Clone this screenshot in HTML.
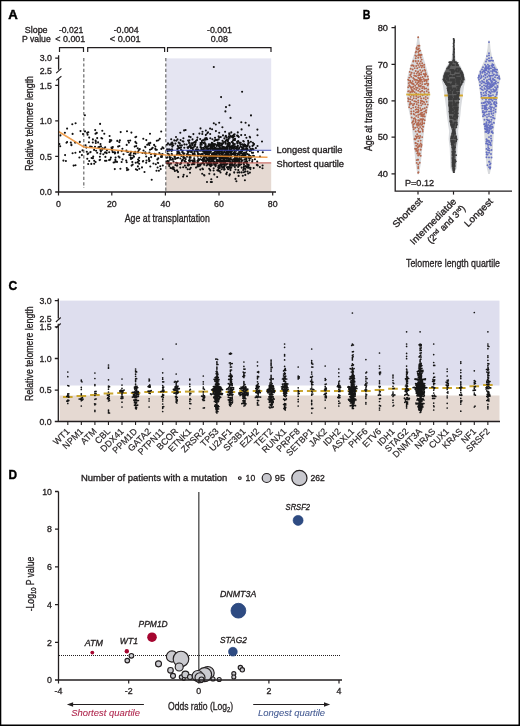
<!DOCTYPE html>
<html><head><meta charset="utf-8"><style>
html,body{margin:0;padding:0;background:#fff;}
.fig{position:relative;width:520px;height:726px;overflow:hidden;}
svg{display:block;will-change:transform;font-family:"Liberation Sans", sans-serif;}
</style></head><body><div class="fig">
<svg width="520" height="726" viewBox="0 0 520 726" fill="#231f20">
<rect x="0" y="0" width="520" height="726" fill="#fff"/>
<text x="8.30" y="19.00" font-size="13.6" textLength="9.50" lengthAdjust="spacingAndGlyphs" font-weight="bold" fill="#000" stroke="#000" stroke-width="0.5">A</text>
<text x="24.70" y="33.40" font-size="8.8" textLength="22.90" lengthAdjust="spacingAndGlyphs" stroke="#231f20" stroke-width="0.32">Slope</text>
<text x="22.00" y="41.50" font-size="8.8" textLength="28.70" lengthAdjust="spacingAndGlyphs" stroke="#231f20" stroke-width="0.32">P value</text>
<text x="59.00" y="33.40" font-size="8.8" textLength="24.30" lengthAdjust="spacingAndGlyphs" stroke="#231f20" stroke-width="0.32">-0.021</text>
<text x="55.30" y="41.50" font-size="8.8" textLength="30.00" lengthAdjust="spacingAndGlyphs" stroke="#231f20" stroke-width="0.32">&lt; 0.001</text>
<text x="113.70" y="33.40" font-size="8.8" textLength="25.00" lengthAdjust="spacingAndGlyphs" stroke="#231f20" stroke-width="0.32">-0.004</text>
<text x="109.80" y="41.50" font-size="8.8" textLength="30.80" lengthAdjust="spacingAndGlyphs" stroke="#231f20" stroke-width="0.32">&lt; 0.001</text>
<text x="207.00" y="33.40" font-size="8.8" textLength="25.00" lengthAdjust="spacingAndGlyphs" stroke="#231f20" stroke-width="0.32">-0.001</text>
<text x="210.70" y="41.50" font-size="8.8" textLength="17.30" lengthAdjust="spacingAndGlyphs" stroke="#231f20" stroke-width="0.32">0.08</text>
<path d="M59.5 52V47.6H83.5V52" fill="none" stroke="#231f20" stroke-width="1.2"/>
<path d="M87.7 52V47.6H164.6V52" fill="none" stroke="#231f20" stroke-width="1.2"/>
<path d="M167.5 52V47.6H271.0V52" fill="none" stroke="#231f20" stroke-width="1.2"/>
<rect x="165.90" y="58.40" width="105.30" height="91.80" fill="#e5e5f2"/>
<rect x="165.90" y="162.50" width="105.30" height="29.50" fill="#e5d9d2"/>
<line x1="83.80" y1="58.00" x2="83.80" y2="188.00" stroke="#6a6a6a" stroke-width="1.2" stroke-dasharray="3.2 2.2"/>
<line x1="165.80" y1="58.00" x2="165.80" y2="191.00" stroke="#6a6a6a" stroke-width="1.2" stroke-dasharray="3.2 2.2"/>
<path stroke="#111" stroke-width="2.1" stroke-linecap="round" fill="none" d="M75.5 165.3h0M82.5 150.4h0M79.4 157.5h0M65.1 155.1h0M67.1 128.6h0M81.9 155.1h0M59.4 144.1h0M80.5 131.1h0M79.9 151.9h0M71.4 145.2h0M67.1 142.1h0M66.5 142.7h0M65.9 161.0h0M70.8 142.5h0M72.3 124.3h0M73.6 165.6h0M85.0 131.4h0M79.8 141.9h0M75.4 152.7h0M84.9 115.2h0M64.9 132.8h0M63.4 160.6h0M75.1 142.6h0M60.4 135.4h0M60.2 146.3h0M72.6 133.9h0M71.4 144.6h0M83.0 134.1h0M75.6 123.2h0M72.6 153.2h0M136.2 136.8h0M139.2 157.7h0M97.2 152.7h0M120.4 168.8h0M104.3 133.8h0M117.3 140.9h0M92.9 139.4h0M162.5 147.4h0M102.3 148.2h0M138.9 150.0h0M109.2 152.3h0M155.0 155.5h0M138.1 151.6h0M95.7 133.7h0M152.7 147.8h0M160.7 154.5h0M157.4 159.4h0M130.7 157.8h0M96.8 132.9h0M100.5 144.1h0M159.3 153.1h0M129.3 154.9h0M99.6 160.1h0M155.8 154.2h0M136.4 143.3h0M130.7 155.4h0M115.2 152.5h0M118.0 152.7h0M104.3 148.3h0M88.2 164.0h0M155.2 155.8h0M122.5 159.4h0M128.9 142.6h0M110.9 157.6h0M145.2 146.9h0M87.2 132.9h0M114.9 153.4h0M87.6 154.1h0M95.0 146.8h0M162.5 154.1h0M137.7 162.0h0M119.4 146.0h0M127.0 131.2h0M154.9 156.0h0M112.7 152.1h0M132.3 162.0h0M139.8 149.1h0M113.6 162.5h0M126.7 162.2h0M146.3 140.1h0M157.8 162.7h0M97.2 138.1h0M159.8 138.7h0M85.6 145.3h0M145.4 147.2h0M150.0 133.7h0M96.1 150.7h0M118.6 156.5h0M150.3 166.5h0M86.3 147.6h0M135.4 137.2h0M148.6 143.4h0M126.2 160.5h0M143.2 161.0h0M103.3 154.3h0M101.0 146.2h0M114.2 152.2h0M99.5 146.9h0M112.8 147.1h0M161.0 156.9h0M131.0 151.9h0M112.3 148.0h0M106.9 150.4h0M161.3 149.0h0M120.7 132.1h0M163.5 148.3h0M126.4 150.6h0M126.8 168.0h0M156.8 149.8h0M144.5 172.0h0M131.6 165.6h0M119.3 142.1h0M155.4 146.5h0M118.1 152.0h0M158.9 170.8h0M90.6 152.0h0M119.5 157.4h0M126.7 144.9h0M161.2 131.5h0M105.2 147.3h0M149.6 160.8h0M139.2 163.8h0M142.5 153.0h0M135.5 153.7h0M162.8 165.5h0M111.7 148.8h0M117.0 161.9h0M101.4 138.1h0M89.2 137.6h0M102.2 138.5h0M158.3 158.4h0M152.3 148.1h0M94.1 149.9h0M133.4 155.6h0M123.5 154.3h0M132.7 164.6h0M137.9 166.4h0M109.7 141.9h0M162.0 155.9h0M122.4 148.7h0M135.4 141.9h0M135.9 169.2h0M99.9 156.8h0M90.1 146.5h0M118.1 146.6h0M146.2 156.5h0M150.3 142.9h0M143.5 150.5h0M94.2 160.7h0M158.2 163.0h0M149.3 145.0h0M155.3 148.9h0M127.0 170.1h0M158.4 140.3h0M88.9 142.2h0M87.6 134.7h0M86.8 151.8h0M105.4 152.4h0M105.0 160.7h0M100.1 123.9h0M130.5 153.2h0M88.3 132.3h0M132.4 158.1h0M98.4 147.3h0M139.3 168.8h0M86.8 151.8h0M110.0 140.1h0M160.2 166.3h0M128.2 140.7h0M150.0 149.7h0M137.8 162.5h0M134.0 156.8h0M100.4 153.7h0M131.1 152.0h0M88.3 153.5h0M149.2 161.2h0M161.9 157.0h0M153.4 163.5h0M89.2 161.0h0M112.2 150.5h0M110.6 141.1h0M94.2 163.8h0M135.2 151.8h0M148.9 159.4h0M110.2 159.6h0M154.1 144.9h0M148.9 158.1h0M95.5 133.8h0M146.5 160.5h0M155.7 149.7h0M100.9 151.4h0M131.0 159.0h0M136.2 146.1h0M133.9 153.3h0M92.8 142.5h0M138.0 152.6h0M135.7 162.7h0M151.0 154.2h0M149.4 152.5h0M111.3 140.4h0M142.9 161.5h0M154.5 153.8h0M156.5 170.7h0M98.1 142.4h0M87.3 158.8h0M137.2 170.0h0M102.3 149.8h0M130.2 140.5h0M160.7 169.1h0M115.5 161.1h0M105.4 156.9h0M121.6 162.0h0M137.7 148.3h0M93.2 156.6h0M115.6 157.5h0M95.8 142.9h0M138.1 159.6h0M151.6 148.9h0M115.3 159.9h0M114.9 162.3h0M128.3 169.6h0M102.3 130.8h0M104.9 152.6h0M111.5 147.6h0M121.7 151.1h0M91.7 146.8h0M145.3 152.2h0M131.4 132.6h0M109.1 160.1h0M91.3 163.9h0M146.2 162.8h0M95.6 162.0h0M95.8 141.3h0M95.6 140.6h0M91.6 158.0h0M157.6 167.5h0M106.7 153.1h0M109.6 136.0h0M151.7 179.8h0M134.7 146.6h0M100.1 159.8h0M119.9 140.3h0M155.8 164.2h0M115.2 153.1h0M142.0 167.4h0M92.9 158.2h0M143.3 138.8h0M147.2 144.7h0M151.2 157.1h0M139.1 160.8h0M114.8 169.1h0M90.3 152.2h0M126.6 151.5h0M145.7 153.6h0M100.4 150.0h0M106.4 160.7h0M128.0 152.0h0M145.0 153.0h0M156.8 140.8h0M95.2 130.1h0M190.7 151.0h0M192.1 144.2h0M187.9 153.0h0M172.1 142.5h0M201.9 142.3h0M231.2 155.2h0M226.0 140.5h0M182.9 152.7h0M177.9 153.4h0M193.4 163.1h0M230.9 157.0h0M207.4 146.8h0M243.9 166.9h0M221.5 148.0h0M218.6 150.9h0M230.9 151.6h0M229.4 175.4h0M195.3 155.3h0M188.0 148.1h0M203.2 161.6h0M207.5 153.4h0M178.3 177.1h0M203.5 147.8h0M220.1 160.6h0M177.8 145.9h0M178.0 171.9h0M181.0 147.6h0M190.2 156.5h0M247.2 146.5h0M168.6 163.1h0M181.9 160.2h0M180.3 132.8h0M206.3 162.2h0M167.7 161.0h0M204.9 156.9h0M180.1 164.1h0M189.1 142.9h0M233.0 137.7h0M181.9 161.0h0M218.2 170.8h0M200.5 143.0h0M201.5 143.6h0M235.0 146.4h0M179.9 143.2h0M244.0 162.6h0M241.4 155.9h0M222.5 167.5h0M170.6 167.9h0M222.1 144.9h0M216.8 160.7h0M231.3 132.4h0M184.4 153.6h0M246.5 160.4h0M240.8 146.6h0M176.0 137.0h0M192.9 149.6h0M169.2 165.9h0M236.2 150.7h0M243.3 141.1h0M249.5 159.0h0M217.8 161.7h0M222.3 144.5h0M223.4 152.9h0M214.3 164.8h0M246.4 157.9h0M217.5 161.5h0M194.6 151.4h0M209.5 153.2h0M168.0 143.2h0M227.2 147.5h0M224.7 169.3h0M201.8 150.4h0M237.9 145.7h0M229.9 149.9h0M194.7 144.4h0M172.9 159.5h0M177.5 163.4h0M181.9 145.4h0M191.9 164.5h0M204.0 175.0h0M244.3 144.4h0M189.8 161.2h0M241.9 157.2h0M223.6 167.7h0M238.1 167.0h0M200.3 165.4h0M166.7 157.7h0M232.5 150.7h0M187.0 176.3h0M178.4 147.1h0M233.5 165.6h0M224.0 164.5h0M184.3 147.8h0M188.9 155.0h0M245.3 169.0h0M189.0 136.6h0M225.4 162.5h0M177.3 151.9h0M234.9 152.4h0M176.3 140.7h0M209.8 158.6h0M169.4 144.6h0M212.6 161.4h0M237.5 143.5h0M173.5 161.6h0M189.5 157.7h0M230.6 136.1h0M217.5 151.2h0M192.7 153.2h0M219.2 132.8h0M204.6 150.8h0M238.8 162.1h0M191.0 147.2h0M230.0 165.6h0M219.8 143.5h0M228.6 142.7h0M198.2 159.8h0M227.3 160.3h0M225.1 152.6h0M199.0 154.1h0M168.7 163.6h0M247.3 148.8h0M226.3 173.8h0M183.6 158.4h0M227.8 158.1h0M189.8 156.9h0M205.8 151.3h0M238.6 166.0h0M204.0 148.6h0M190.6 156.0h0M192.1 160.5h0M172.9 167.4h0M184.9 165.6h0M189.2 150.8h0M181.0 163.5h0M171.7 153.7h0M205.5 144.1h0M184.4 144.4h0M228.5 139.3h0M243.9 157.1h0M189.3 164.7h0M214.5 144.5h0M209.0 151.3h0M172.7 143.5h0M176.9 154.2h0M240.7 142.8h0M206.2 146.2h0M234.0 147.4h0M172.0 149.4h0M216.4 150.5h0M239.1 152.0h0M239.2 152.1h0M166.9 144.8h0M210.2 159.2h0M197.4 137.6h0M230.2 155.3h0M172.6 144.8h0M188.7 155.1h0M234.7 156.6h0M205.9 134.8h0M204.5 157.2h0M247.7 166.5h0M193.3 161.1h0M169.9 157.3h0M199.4 133.6h0M179.3 152.3h0M173.3 145.3h0M214.1 163.9h0M246.5 150.9h0M215.1 147.8h0M220.8 137.0h0M193.6 160.9h0M214.4 148.5h0M229.6 151.4h0M215.9 164.1h0M233.8 154.5h0M212.6 156.8h0M183.1 176.6h0M215.4 148.5h0M207.6 149.1h0M180.4 158.5h0M218.4 167.1h0M235.0 140.1h0M177.8 151.7h0M212.2 144.5h0M228.0 140.8h0M200.3 159.3h0M189.1 146.5h0M197.7 156.6h0M211.9 154.9h0M224.1 155.1h0M213.4 154.3h0M175.4 143.6h0M235.1 153.1h0M244.0 155.7h0M174.9 156.9h0M187.4 151.0h0M181.0 162.8h0M237.7 159.1h0M242.8 154.8h0M170.1 159.7h0M194.3 155.4h0M182.6 160.1h0M205.8 135.1h0M243.8 141.5h0M172.3 150.0h0M180.8 154.8h0M207.3 133.3h0M210.4 151.2h0M229.0 155.1h0M203.2 151.4h0M178.3 151.3h0M196.1 140.8h0M248.9 154.5h0M229.5 134.1h0M176.2 162.7h0M234.3 147.6h0M192.5 163.9h0M232.0 136.9h0M167.5 157.4h0M239.6 154.8h0M180.1 145.4h0M204.7 142.2h0M222.0 164.9h0M209.1 157.6h0M180.3 167.6h0M178.1 153.0h0M190.3 155.2h0M170.8 157.6h0M184.6 160.8h0M177.4 158.0h0M205.5 161.4h0M196.4 149.2h0M215.7 139.7h0M190.0 172.8h0M169.3 155.4h0M194.2 158.3h0M229.8 149.6h0M187.9 163.4h0M200.4 155.7h0M229.8 164.2h0M200.6 147.6h0M240.9 153.3h0M243.5 155.8h0M192.5 150.7h0M228.2 156.6h0M187.7 169.2h0M178.1 148.6h0M203.2 151.5h0M217.0 155.7h0M245.0 144.8h0M178.7 142.6h0M226.2 164.7h0M206.3 161.8h0M177.5 139.4h0M248.1 140.7h0M224.8 161.3h0M177.2 165.6h0M242.5 160.4h0M175.1 159.0h0M174.2 169.5h0M194.3 154.0h0M245.2 166.5h0M169.2 165.9h0M243.5 145.5h0M217.8 160.8h0M172.1 155.0h0M214.2 148.2h0M204.9 146.5h0M213.8 157.5h0M228.3 153.8h0M223.4 162.2h0M250.1 137.5h0M179.6 148.0h0M234.7 164.8h0M200.9 154.2h0M232.2 147.4h0M241.3 149.7h0M249.7 136.7h0M188.8 141.1h0M204.5 159.4h0M245.6 155.1h0M245.8 166.6h0M197.7 151.9h0M245.4 152.8h0M200.5 128.4h0M197.9 153.3h0M229.9 174.3h0M206.0 160.7h0M204.1 153.2h0M198.8 166.3h0M202.8 162.6h0M178.2 157.8h0M171.6 151.0h0M229.7 155.9h0M213.8 162.8h0M222.8 146.7h0M233.8 159.4h0M185.7 159.1h0M186.1 167.5h0M189.8 161.8h0M191.9 148.0h0M230.3 169.8h0M197.8 155.0h0M193.6 147.4h0M219.8 157.9h0M182.1 152.0h0M175.4 165.0h0M225.0 141.7h0M229.9 143.7h0M191.3 152.0h0M219.8 171.1h0M169.3 164.3h0M200.4 144.9h0M215.0 137.8h0M187.7 151.4h0M195.7 142.3h0M217.6 160.1h0M216.0 156.1h0M179.4 154.3h0M225.7 150.2h0M173.2 168.9h0M247.8 145.3h0M183.4 141.6h0M187.7 165.3h0M183.2 167.3h0M249.7 150.9h0M190.5 160.5h0M217.2 177.0h0M249.6 146.5h0M246.2 152.8h0M170.0 158.8h0M210.2 134.0h0M216.9 152.9h0M225.4 161.5h0M194.6 153.3h0M194.0 164.2h0M166.8 161.6h0M169.4 150.6h0M212.6 159.6h0M172.8 158.6h0M183.4 138.3h0M194.4 146.0h0M172.3 146.6h0M169.0 149.2h0M244.2 149.6h0M203.0 140.3h0M183.6 154.5h0M225.9 136.5h0M167.2 163.4h0M187.0 156.7h0M247.1 167.5h0M241.8 157.6h0M219.8 149.3h0M174.3 140.4h0M193.1 160.6h0M168.8 154.2h0M184.8 157.7h0M168.6 161.3h0M177.0 165.7h0M219.6 153.7h0M174.9 170.9h0M179.5 153.2h0M242.2 154.1h0M194.6 160.6h0M194.4 164.0h0M173.7 167.5h0M233.2 136.3h0M223.2 167.1h0M212.4 139.3h0M218.3 148.5h0M174.9 157.8h0M188.3 165.4h0M215.4 144.3h0M246.4 137.7h0M235.0 163.2h0M220.2 157.1h0M210.0 144.2h0M167.7 151.1h0M241.2 135.1h0M172.0 159.7h0M177.3 149.1h0M224.6 166.3h0M234.6 134.2h0M232.5 161.3h0M204.4 175.4h0M181.3 155.5h0M169.4 155.6h0M237.9 135.9h0M248.5 157.5h0M186.9 154.4h0M239.1 148.6h0M200.2 139.1h0M192.6 154.9h0M208.8 144.3h0M167.1 149.3h0M203.6 157.1h0M183.2 153.5h0M226.2 154.0h0M208.6 163.1h0M239.4 142.6h0M241.7 167.6h0M193.0 143.0h0M190.0 145.1h0M245.3 155.2h0M208.7 161.6h0M174.5 156.4h0M170.3 149.7h0M249.6 147.1h0M215.1 151.5h0M171.0 144.8h0M209.4 159.6h0M208.8 152.0h0M203.0 169.3h0M246.3 147.0h0M246.1 152.8h0M176.9 158.3h0M179.2 143.1h0M200.6 147.6h0M236.4 181.3h0M218.8 153.9h0M227.7 168.2h0M214.8 144.0h0M184.1 130.4h0M235.1 159.2h0M167.6 153.6h0M225.1 156.7h0M182.7 150.9h0M206.0 148.1h0M248.3 141.9h0M211.7 163.7h0M171.2 139.2h0M202.4 163.2h0M221.9 151.6h0M171.2 143.2h0M187.6 147.4h0M168.0 163.3h0M211.8 161.0h0M198.5 158.7h0M208.7 154.8h0M191.3 143.3h0M221.6 166.7h0M181.0 149.8h0M242.5 148.4h0M247.0 148.9h0M207.8 149.8h0M205.5 139.7h0M238.6 149.6h0M190.8 146.1h0M233.9 148.9h0M190.6 137.1h0M226.9 172.5h0M194.5 142.0h0M217.0 156.8h0M244.2 157.0h0M171.0 163.6h0M234.2 172.2h0M211.9 157.9h0M198.3 160.9h0M195.8 149.5h0M172.3 168.4h0M188.1 140.5h0M218.7 151.7h0M174.6 156.6h0M222.6 161.1h0M247.2 161.8h0M248.8 165.1h0M241.1 159.5h0M234.1 154.2h0M181.4 156.0h0M247.9 167.8h0M183.5 156.8h0M239.4 162.8h0M240.1 152.7h0M218.6 136.4h0M210.2 148.3h0M183.3 157.3h0M210.0 169.8h0M190.8 167.8h0M177.0 170.4h0M223.6 147.3h0M234.2 161.6h0M242.0 153.7h0M219.6 160.2h0M221.2 153.4h0M222.5 140.8h0M226.4 160.8h0M210.7 157.5h0M241.5 162.0h0M218.7 145.9h0M232.5 164.1h0M211.9 165.1h0M230.8 167.6h0M231.3 167.8h0M218.3 149.8h0M257.4 129.6h0M231.0 163.8h0M253.5 145.1h0M240.4 151.9h0M214.5 164.8h0M219.0 156.9h0M232.0 156.5h0M226.0 160.9h0M225.9 135.8h0M220.5 172.5h0M196.1 150.6h0M221.5 151.1h0M189.6 159.8h0M231.0 152.8h0M213.5 145.9h0M213.6 152.8h0M221.6 150.3h0M229.4 147.6h0M202.2 173.7h0M197.1 140.1h0M208.0 132.4h0M192.4 144.9h0M209.6 144.6h0M250.5 167.8h0M208.2 155.4h0M235.5 162.1h0M203.1 159.9h0M229.8 145.0h0M219.9 162.0h0M224.1 155.5h0M234.2 172.6h0M253.1 155.8h0M228.2 153.4h0M227.1 161.0h0M209.5 161.2h0M234.4 136.2h0M221.1 165.9h0M238.4 164.3h0M224.4 162.0h0M252.9 142.8h0M193.4 134.1h0M220.3 151.1h0M239.2 161.1h0M219.5 158.4h0M212.4 144.1h0M220.8 163.0h0M203.0 140.3h0M227.0 140.7h0M243.4 153.6h0M207.3 148.1h0M211.1 147.1h0M218.6 139.4h0M241.1 164.3h0M211.9 142.9h0M214.0 157.9h0M239.2 161.6h0M238.9 153.3h0M219.1 156.3h0M207.2 163.7h0M200.3 169.6h0M213.9 163.3h0M189.4 140.3h0M237.1 135.5h0M215.0 148.0h0M232.8 142.9h0M254.9 159.2h0M243.8 155.0h0M206.7 151.6h0M239.0 164.6h0M243.6 163.8h0M213.1 153.3h0M209.8 157.3h0M223.3 164.5h0M199.5 150.6h0M248.6 156.8h0M186.6 144.5h0M207.4 154.3h0M220.8 157.1h0M221.4 153.0h0M227.7 155.9h0M229.4 160.7h0M221.6 158.1h0M243.2 147.1h0M190.9 148.1h0M225.1 141.9h0M213.6 170.5h0M227.2 158.0h0M228.6 158.2h0M210.5 152.6h0M214.8 158.6h0M237.7 159.2h0M230.6 146.8h0M214.2 152.6h0M257.7 165.4h0M262.0 141.5h0M201.7 144.7h0M229.9 159.8h0M237.6 146.3h0M228.6 161.3h0M221.7 143.5h0M216.4 156.4h0M221.7 162.0h0M216.3 157.8h0M237.0 161.6h0M218.7 152.4h0M218.0 152.6h0M205.8 153.9h0M224.3 159.6h0M210.8 182.0h0M222.2 153.4h0M241.7 172.4h0M230.9 151.9h0M233.1 143.4h0M230.8 151.6h0M226.0 158.0h0M223.0 156.0h0M220.1 155.5h0M237.2 159.5h0M207.7 159.9h0M246.5 163.1h0M225.6 142.9h0M213.1 154.4h0M217.2 145.1h0M214.2 156.7h0M227.6 153.6h0M213.6 155.9h0M243.3 149.8h0M212.6 146.3h0M188.7 152.0h0M213.4 160.7h0M192.9 161.7h0M224.4 138.4h0M242.0 157.0h0M235.4 157.1h0M203.7 140.2h0M212.9 143.8h0M253.5 149.2h0M230.2 158.1h0M225.1 131.7h0M241.9 150.5h0M245.8 149.0h0M227.3 155.9h0M230.7 167.8h0M234.9 167.1h0M215.3 150.4h0M208.1 150.5h0M225.9 156.6h0M209.9 165.5h0M224.1 168.1h0M226.6 157.4h0M262.5 168.2h0M211.5 145.7h0M223.1 143.2h0M222.4 127.2h0M232.1 145.9h0M241.8 160.0h0M217.2 162.6h0M211.9 182.0h0M198.8 160.0h0M210.3 156.0h0M233.6 145.0h0M225.8 148.4h0M208.8 148.6h0M219.1 152.2h0M225.6 147.9h0M233.1 140.4h0M215.6 164.5h0M221.1 158.7h0M196.0 167.6h0M206.7 138.8h0M250.9 141.8h0M190.1 147.1h0M219.7 165.8h0M228.6 152.6h0M219.1 156.5h0M212.1 153.5h0M224.1 156.1h0M225.0 149.3h0M223.7 158.1h0M195.0 146.1h0M222.7 152.0h0M211.4 157.1h0M216.3 155.3h0M228.7 158.5h0M235.3 146.5h0M239.4 156.9h0M217.1 151.4h0M239.8 158.0h0M243.8 168.5h0M243.2 145.6h0M247.3 164.4h0M222.7 147.8h0M222.3 150.2h0M238.3 170.1h0M203.2 163.3h0M228.4 159.2h0M216.6 162.1h0M219.2 165.6h0M197.2 147.2h0M210.8 156.6h0M224.7 150.6h0M239.3 158.4h0M240.9 151.3h0M223.8 161.5h0M222.0 154.5h0M211.8 148.7h0M231.5 153.8h0M221.1 158.7h0M234.8 164.7h0M253.1 152.7h0M224.5 151.0h0M201.1 156.7h0M211.3 161.6h0M201.7 149.1h0M205.9 130.5h0M245.9 157.2h0M228.7 151.0h0M200.8 150.7h0M235.5 178.9h0M245.2 153.1h0M219.3 161.0h0M214.3 141.0h0M219.7 156.7h0M229.6 161.7h0M235.3 156.4h0M244.0 152.7h0M244.5 159.6h0M244.0 154.8h0M246.8 167.2h0M235.6 156.4h0M200.6 146.8h0M223.0 135.4h0M230.1 147.5h0M218.9 151.7h0M239.6 142.9h0M219.3 144.5h0M210.3 138.3h0M248.2 143.9h0M235.7 155.4h0M228.6 151.8h0M239.9 152.6h0M242.1 151.4h0M230.5 152.3h0M185.8 161.8h0M214.3 174.4h0M217.8 160.7h0M209.3 173.7h0M228.2 153.6h0M244.1 154.2h0M217.3 170.3h0M206.9 147.7h0M257.5 146.0h0M217.8 153.4h0M205.3 138.3h0M228.9 136.3h0M231.9 165.8h0M213.8 144.3h0M237.7 150.0h0M217.3 150.3h0M210.3 145.3h0M227.9 161.2h0M237.4 159.9h0M214.9 162.2h0M230.3 161.5h0M223.6 155.2h0M213.7 168.2h0M247.2 164.3h0M224.2 148.7h0M223.0 155.0h0M236.6 150.6h0M239.4 172.4h0M245.3 161.8h0M230.3 159.6h0M215.5 154.0h0M216.5 159.9h0M233.2 145.3h0M234.4 154.8h0M247.4 154.1h0M231.8 154.1h0M242.0 147.5h0M249.3 158.8h0M227.7 143.5h0M201.3 149.9h0M206.2 152.8h0M202.1 153.9h0M250.5 149.3h0M211.5 144.5h0M244.8 145.2h0M234.4 150.7h0M252.5 145.9h0M241.1 153.1h0M223.4 142.3h0M221.9 154.5h0M226.4 174.2h0M227.9 141.4h0M216.6 153.2h0M224.5 165.5h0M250.8 156.2h0M197.8 162.7h0M229.2 134.1h0M210.6 149.5h0M228.1 169.3h0M238.5 149.0h0M224.1 158.1h0M237.4 135.9h0M199.6 164.4h0M242.8 175.8h0M215.4 153.6h0M235.0 157.6h0M228.0 158.3h0M183.7 174.8h0M213.0 150.2h0M228.6 138.2h0M249.9 172.6h0M229.7 143.0h0M229.2 159.7h0M202.5 131.8h0M247.9 150.1h0M254.0 156.1h0M225.5 143.7h0M221.5 149.2h0M199.2 159.9h0M239.2 147.5h0M236.5 159.2h0M245.3 171.4h0M233.7 134.8h0M209.3 157.6h0M246.4 160.1h0M205.3 151.0h0M221.7 169.2h0M229.5 167.2h0M239.2 159.1h0M231.7 159.3h0M231.2 153.6h0M212.9 143.5h0M204.4 158.8h0M226.0 149.5h0M213.7 148.5h0M204.2 164.7h0M204.8 152.1h0M217.2 163.3h0M195.4 144.1h0M203.5 149.9h0M198.9 154.1h0M228.0 167.1h0M231.6 153.2h0M257.2 161.6h0M201.1 147.5h0M214.2 155.4h0M239.7 162.1h0M221.6 145.4h0M219.8 147.4h0M252.4 160.0h0M219.7 143.1h0M206.6 157.1h0M204.0 157.2h0M230.4 153.1h0M229.9 161.5h0M203.1 158.5h0M209.3 155.8h0M233.6 139.6h0M234.3 139.9h0M214.8 156.8h0M235.0 138.8h0M234.2 154.7h0M196.6 150.6h0M220.1 145.8h0M231.7 151.5h0M215.9 131.1h0M190.9 151.9h0M220.5 165.7h0M237.1 141.8h0M250.3 158.2h0M190.0 157.2h0M207.0 182.0h0M240.4 144.7h0M244.8 146.4h0M240.8 146.6h0M227.5 144.9h0M206.5 138.1h0M235.1 154.7h0M213.6 145.3h0M184.7 161.4h0M236.4 157.7h0M254.1 144.1h0M210.5 150.5h0M248.5 167.1h0M250.5 150.8h0M249.9 156.0h0M224.7 162.1h0M205.8 150.1h0M222.2 158.1h0M189.8 169.3h0M197.8 164.9h0M226.5 137.3h0M209.2 168.8h0M222.4 152.1h0M223.3 148.4h0M255.9 148.1h0M245.8 166.0h0M224.3 157.4h0M244.4 152.9h0M212.6 146.6h0M219.7 160.5h0M239.6 165.4h0M205.2 144.7h0M220.6 143.7h0M203.9 150.7h0M226.9 160.1h0M251.2 150.4h0M213.0 153.2h0M228.7 146.2h0M210.7 166.2h0M206.7 153.2h0M205.3 155.8h0M248.3 164.9h0M262.8 152.2h0M232.8 153.9h0M213.6 158.2h0M236.3 150.5h0M219.7 167.9h0M237.9 154.8h0M229.7 150.1h0M229.5 151.5h0M234.8 144.0h0M215.8 165.8h0M218.6 168.7h0M197.5 152.0h0M218.0 149.9h0M202.3 134.0h0M222.7 148.4h0M209.7 162.6h0M226.7 146.5h0M232.3 162.4h0M202.4 168.5h0M212.1 129.3h0M210.0 151.1h0M237.0 147.4h0M252.3 148.9h0M238.7 136.9h0M219.5 151.5h0M248.5 142.6h0M200.9 164.1h0M249.0 167.6h0M214.6 140.6h0M180.6 140.1h0M250.3 149.4h0M208.6 152.1h0M227.8 152.7h0M221.6 160.9h0M226.7 139.5h0M201.3 148.0h0M214.2 149.4h0M232.5 150.7h0M228.6 144.2h0M244.2 149.4h0M226.3 147.1h0M262.6 165.5h0M213.6 149.4h0M229.2 133.3h0M194.4 159.2h0M205.0 155.5h0M246.3 145.7h0M210.0 145.1h0M233.5 148.3h0M224.1 169.8h0M208.4 149.5h0M219.5 165.6h0M216.8 162.2h0M217.3 149.0h0M237.1 157.1h0M235.5 146.5h0M215.8 124.5h0M210.6 146.8h0M229.6 147.3h0M223.5 162.9h0M241.5 160.4h0M238.5 164.5h0M224.5 159.4h0M222.3 164.7h0M211.4 160.6h0M210.6 156.3h0M209.0 163.9h0M218.7 167.9h0M218.2 167.3h0M237.0 149.9h0M218.7 153.7h0M221.9 144.4h0M205.6 144.3h0M251.4 157.5h0M233.2 147.8h0M253.7 168.1h0M237.8 132.4h0M248.9 142.8h0M221.1 156.3h0M236.5 165.4h0M205.5 150.6h0M243.9 172.2h0M252.2 161.7h0M231.8 147.1h0M237.3 153.5h0M245.5 159.0h0M214.3 145.2h0M231.7 164.2h0M210.9 151.5h0M214.0 159.0h0M215.0 162.4h0M222.7 149.8h0M227.5 163.8h0M232.5 136.0h0M201.9 159.9h0M257.5 135.2h0M244.0 164.8h0M237.0 148.5h0M219.2 165.8h0M223.6 167.1h0M234.0 152.7h0M231.8 147.8h0M197.5 166.5h0M237.2 142.9h0M194.8 161.9h0M241.4 153.0h0M231.1 150.6h0M223.2 148.6h0M247.6 171.5h0M205.7 138.8h0M227.7 148.9h0M249.1 158.3h0M221.8 164.1h0M218.2 170.5h0M226.9 167.3h0M217.8 149.0h0M250.5 157.5h0M210.2 165.1h0M239.4 159.3h0M204.5 139.3h0M236.1 157.4h0M223.3 159.9h0M182.6 141.3h0M225.0 149.8h0M207.5 153.8h0M217.8 160.1h0M250.4 169.1h0M206.7 165.5h0M207.6 158.9h0M248.7 156.4h0M227.0 150.9h0M250.4 149.0h0M230.4 152.1h0M210.6 152.2h0M224.0 163.9h0M245.3 174.9h0M240.5 159.3h0M225.1 163.4h0M225.9 160.5h0M223.2 156.9h0M215.6 166.2h0M256.8 164.9h0M225.2 155.2h0M206.5 153.2h0M217.2 160.6h0M237.0 149.5h0M235.6 156.4h0M222.8 164.0h0M214.1 153.9h0M225.5 136.2h0M197.5 160.7h0M203.7 143.1h0M238.2 141.1h0M217.2 139.9h0M231.2 162.2h0M245.1 135.0h0M235.7 153.2h0M225.4 156.7h0M260.0 156.5h0M236.0 148.5h0M219.2 153.8h0M237.1 156.0h0M231.8 142.0h0M211.0 161.2h0M226.3 164.3h0M222.4 146.7h0M192.7 147.5h0M222.2 143.8h0M220.4 164.5h0M217.9 143.9h0M198.0 149.6h0M219.2 137.4h0M224.4 166.2h0M226.7 152.2h0M206.4 156.9h0M235.5 169.5h0M205.1 161.1h0M221.4 143.5h0M246.5 158.8h0M213.7 161.2h0M216.7 145.9h0M242.7 144.8h0M218.8 144.8h0M220.2 161.8h0M228.7 154.8h0M242.3 144.4h0M188.9 160.6h0M211.5 161.5h0M208.5 146.3h0M207.2 139.3h0M211.0 165.3h0M211.3 179.2h0M230.0 168.2h0M210.5 164.0h0M227.1 155.6h0M231.6 148.4h0M213.1 155.7h0M227.2 161.0h0M251.9 152.8h0M230.3 163.5h0M214.6 154.7h0M224.0 160.4h0M210.1 128.6h0M229.5 146.4h0M239.2 162.3h0M211.7 163.8h0M221.6 158.5h0M243.2 170.0h0M216.9 161.3h0M228.1 161.3h0M208.3 145.8h0M211.7 158.4h0M216.7 161.8h0M259.9 167.1h0M218.5 165.5h0M216.6 154.9h0M216.1 156.3h0M222.4 143.4h0M235.6 160.3h0M228.1 144.1h0M258.0 151.8h0M228.5 154.3h0M248.2 173.5h0M229.5 166.6h0M234.7 147.2h0M202.0 140.9h0M223.0 152.3h0M224.0 147.0h0M221.2 158.2h0M190.6 157.8h0M239.1 160.6h0M218.9 144.9h0M218.1 151.0h0M221.0 156.5h0M221.4 157.4h0M231.6 148.9h0M204.7 151.2h0M210.2 162.2h0M229.7 137.8h0M227.4 151.8h0M219.0 154.2h0M215.9 140.1h0M211.7 144.5h0M224.1 155.1h0M243.9 149.1h0M208.1 164.5h0M249.4 160.4h0M238.6 175.9h0M217.8 142.6h0M237.6 172.5h0M201.6 147.7h0M197.4 162.2h0M204.4 163.7h0M218.5 156.1h0M219.9 151.7h0M216.8 148.4h0M226.7 137.3h0M190.9 150.8h0M233.0 145.8h0M202.4 160.0h0M214.5 147.4h0M218.5 152.8h0M206.6 158.7h0M203.1 155.2h0M209.0 154.9h0M224.9 152.4h0M234.5 150.4h0M234.1 159.1h0M209.2 161.4h0M212.4 147.1h0M210.3 170.5h0M232.3 160.2h0M192.5 139.4h0M244.9 180.2h0M217.3 160.9h0M212.5 147.7h0M230.5 170.1h0M241.6 129.4h0M213.8 67.0h0M242.1 91.7h0M221.1 97.1h0M229.5 105.2h0M226.0 107.1h0M225.4 111.4h0M230.5 117.9h0M251.0 115.4h0M241.3 122.2h0M245.6 122.7h0M248.9 125.4h0M213.8 123.2h0M185.6 130.0h0M219.2 122.7h0"/>
<line x1="165.90" y1="150.40" x2="271.20" y2="150.40" stroke="#3441b6" stroke-width="1.15" stroke-opacity="0.7"/>
<line x1="165.90" y1="162.90" x2="271.20" y2="162.90" stroke="#be413c" stroke-width="1.4" stroke-opacity="0.68"/>
<polyline points="58.5,131.5 83.8,147 165.8,154.9 267.5,157.3" fill="none" stroke="#ee8f30" stroke-opacity="0.85" stroke-width="1.5"/>
<path d="M58.6 55.3V69.8M58.6 79.1V192.6M58 192H276M55.2 58.1H58.6M55.2 85.3H58.6M55.2 120.9H58.6M55.2 156.4H58.6M55.2 192H58.6" stroke="#231f20" stroke-width="1.3" fill="none"/>
<path d="M56.2 73.2L61.4 68.3M56.2 80.4L61.4 76.3" stroke="#231f20" stroke-width="1.1" fill="none"/>
<line x1="58.50" y1="192.00" x2="58.50" y2="195.50" stroke="#231f20" stroke-width="1.2"/>
<text x="58.50" y="207.00" font-size="8.8" text-anchor="middle" stroke="#231f20" stroke-width="0.32">0</text>
<line x1="111.80" y1="192.00" x2="111.80" y2="195.50" stroke="#231f20" stroke-width="1.2"/>
<text x="111.80" y="207.00" font-size="8.8" text-anchor="middle" stroke="#231f20" stroke-width="0.32">20</text>
<line x1="165.40" y1="192.00" x2="165.40" y2="195.50" stroke="#231f20" stroke-width="1.2"/>
<text x="165.40" y="207.00" font-size="8.8" text-anchor="middle" stroke="#231f20" stroke-width="0.32">40</text>
<line x1="219.00" y1="192.00" x2="219.00" y2="195.50" stroke="#231f20" stroke-width="1.2"/>
<text x="219.00" y="207.00" font-size="8.8" text-anchor="middle" stroke="#231f20" stroke-width="0.32">60</text>
<line x1="272.70" y1="192.00" x2="272.70" y2="195.50" stroke="#231f20" stroke-width="1.2"/>
<text x="272.70" y="207.00" font-size="8.8" text-anchor="middle" stroke="#231f20" stroke-width="0.32">80</text>
<text x="51.90" y="61.30" font-size="8.8" text-anchor="end" textLength="12.20" lengthAdjust="spacingAndGlyphs" stroke="#231f20" stroke-width="0.32">3.0</text>
<text x="51.90" y="74.20" font-size="8.8" text-anchor="end" textLength="12.20" lengthAdjust="spacingAndGlyphs" stroke="#231f20" stroke-width="0.32">2.5</text>
<text x="51.90" y="88.50" font-size="8.8" text-anchor="end" textLength="12.20" lengthAdjust="spacingAndGlyphs" stroke="#231f20" stroke-width="0.32">1.5</text>
<text x="51.90" y="124.10" font-size="8.8" text-anchor="end" textLength="12.20" lengthAdjust="spacingAndGlyphs" stroke="#231f20" stroke-width="0.32">1.0</text>
<text x="51.90" y="159.60" font-size="8.8" text-anchor="end" textLength="12.20" lengthAdjust="spacingAndGlyphs" stroke="#231f20" stroke-width="0.32">0.5</text>
<text x="51.90" y="195.20" font-size="8.8" text-anchor="end" textLength="12.20" lengthAdjust="spacingAndGlyphs" stroke="#231f20" stroke-width="0.32">0.0</text>
<text x="124.80" y="222.30" font-size="11.0" textLength="85.00" lengthAdjust="spacingAndGlyphs" stroke="#231f20" stroke-width="0.32">Age at transplantation</text>
<text x="32.90" y="170.80" font-size="10.4" textLength="94.80" lengthAdjust="spacingAndGlyphs" stroke="#231f20" stroke-width="0.32" transform="rotate(-90 32.90 170.80)">Relative telomere length</text>
<text x="276.50" y="153.20" font-size="8.9" textLength="66.00" lengthAdjust="spacingAndGlyphs" stroke="#231f20" stroke-width="0.32">Longest quartile</text>
<text x="276.50" y="166.50" font-size="8.9" textLength="67.50" lengthAdjust="spacingAndGlyphs" stroke="#231f20" stroke-width="0.32">Shortest quartile</text>
<text x="362.80" y="18.70" font-size="13.4" textLength="7.70" lengthAdjust="spacingAndGlyphs" font-weight="bold" fill="#000" stroke="#000" stroke-width="0.4">B</text>
<path d="M417.4 36.7 L417.1 40.0 L415.6 49.3 L413.1 57.0 L410.2 66.6 L407.4 77.2 L407.1 87.8 L406.6 94.4 L407.6 104.9 L409.8 114.8 L412.0 127.2 L413.2 139.6 L414.5 152.0 L415.7 164.3 L417.4 174.3 L419.0 174.3 L420.7 164.3 L421.9 152.0 L423.2 139.6 L424.4 127.2 L426.6 114.8 L428.8 104.9 L429.8 94.4 L429.3 87.8 L429.0 77.2 L426.1 66.6 L423.3 57.0 L420.8 49.3 L419.3 40.0 L419.0 36.7Z" fill="#d8dadd"/>
<path stroke="#b4684f" stroke-width="1.94" stroke-linecap="round" fill="none" d="M418.2 130.8h0M418.2 82.2h0M418.2 147.1h0M418.2 65.1h0M418.2 55.4h0M416.7 84.1h0M418.2 149.9h0M418.2 77.7h0M418.2 97.3h0M418.2 75.4h0M418.2 120.2h0M420.2 96.6h0M415.7 82.1h0M420.2 83.2h0M418.2 49.3h0M420.2 80.9h0M418.2 102.5h0M418.9 48.5h0M418.2 71.5h0M418.2 164.5h0M418.2 168.2h0M418.2 90.7h0M416.2 95.9h0M418.2 52.1h0M418.2 94.4h0M418.2 100.4h0M422.2 84.1h0M418.2 114.9h0M418.2 122.4h0M416.2 89.8h0M420.7 55.2h0M416.2 56.1h0M418.2 141.1h0M418.2 136.2h0M418.2 155.5h0M420.7 94.4h0M418.7 128.7h0M416.7 73.6h0M418.2 112.4h0M415.7 119.7h0M416.2 98.5h0M420.2 119.1h0M419.7 89.1h0M415.7 112.6h0M417.2 127.1h0M418.2 109.7h0M420.2 114.1h0M417.7 87.9h0M419.2 73.5h0M415.7 136.1h0M420.2 91.8h0M415.7 109.6h0M420.2 123.2h0M416.2 93.5h0M413.7 114.0h0M420.7 110.3h0M422.7 95.3h0M416.2 66.0h0M422.2 112.7h0M414.7 92.1h0M416.7 104.3h0M420.2 131.8h0M416.2 150.9h0M415.7 122.3h0M420.7 77.6h0M420.7 65.5h0M418.7 85.9h0M413.7 95.9h0M411.7 94.9h0M418.2 61.0h0M416.2 148.7h0M415.7 61.4h0M417.2 80.3h0M421.2 74.5h0M420.7 86.5h0M415.2 85.8h0M420.7 61.4h0M422.2 81.9h0M418.9 48.7h0M415.7 71.0h0M417.7 49.4h0M413.7 84.1h0M414.2 88.8h0M416.2 145.7h0M422.2 88.3h0M421.5 54.7h0M422.2 90.9h0M420.7 103.0h0M424.7 84.1h0M413.7 118.8h0M421.2 98.5h0M416.7 162.9h0M414.7 79.7h0M418.7 105.4h0M413.2 61.6h0M413.2 86.8h0M413.7 66.0h0M415.7 52.6h0M419.7 63.5h0M422.7 119.1h0M419.7 145.3h0M415.7 131.4h0M414.2 73.1h0M424.2 91.9h0M420.2 127.1h0M417.2 153.5h0M413.7 111.3h0M424.2 87.1h0M412.7 81.1h0M418.2 172.8h0M414.2 103.8h0M422.2 124.2h0M424.2 111.6h0M423.7 74.0h0M411.2 82.7h0M419.7 137.7h0M413.2 120.9h0M413.7 98.3h0M410.7 87.0h0M416.2 76.2h0M418.2 167.0h0M419.2 67.1h0M416.7 124.2h0M426.7 83.3h0M414.2 75.5h0M409.2 85.3h0M415.2 127.7h0M422.2 63.2h0M418.2 107.5h0M420.2 50.6h0M422.7 77.0h0M413.2 77.9h0M424.2 81.0h0M413.7 84.4h0M419.3 51.0h0M418.2 159.8h0M410.2 80.8h0M420.2 108.1h0M424.2 64.7h0M418.7 125.5h0M419.7 153.5h0M424.2 113.9h0M424.7 94.3h0M426.7 81.0h0M414.2 123.8h0M424.2 123.3h0M422.7 103.9h0M411.7 72.7h0M426.2 88.5h0M411.7 103.6h0M417.9 152.0h0M413.1 124.9h0M425.2 104.2h0M417.2 134.3h0M416.7 138.0h0M421.2 146.7h0M418.2 45.8h0M411.4 65.5h0M422.2 122.3h0M423.7 78.9h0M427.7 85.4h0M420.2 70.1h0M411.2 111.5h0M422.7 126.6h0M415.3 55.4h0M412.2 91.9h0M420.7 149.7h0M426.2 110.1h0M420.7 140.6h0M411.7 89.8h0M414.7 138.8h0M421.7 67.4h0M420.0 124.4h0M421.7 128.6h0M419.5 86.3h0M419.0 153.6h0M422.7 108.9h0M421.4 124.9h0M424.7 120.2h0M422.9 86.6h0M417.8 147.7h0M421.7 119.2h0M414.6 139.2h0M408.2 87.3h0M416.2 101.7h0M425.7 73.2h0M423.7 98.2h0M418.2 57.7h0M415.7 107.0h0M408.2 79.6h0M418.2 117.1h0M422.7 70.7h0M421.2 72.2h0M422.2 101.3h0M419.0 80.6h0M409.7 104.7h0M420.7 57.5h0M410.2 92.6h0M413.2 107.6h0M411.2 76.8h0M411.2 113.8h0M412.2 122.8h0M422.3 123.4h0M424.4 88.7h0M421.7 79.8h0M417.2 68.2h0M418.5 172.3h0M419.7 162.8h0M410.2 75.0h0M424.2 102.2h0M424.8 80.8h0M425.2 79.9h0M427.7 104.6h0M422.2 137.1h0M424.6 81.1h0M411.2 108.6h0M422.7 131.6h0M416.2 115.9h0M426.7 91.3h0M427.2 94.8h0M423.3 126.7h0M418.1 123.9h0M423.5 114.8h0M408.2 91.4h0M420.3 79.9h0M425.2 76.4h0M422.5 65.7h0M421.3 110.3h0M424.7 108.2h0M417.2 63.2h0M417.6 72.1h0M415.7 58.3h0M416.0 149.3h0M410.7 74.4h0M421.7 59.6h0M426.2 112.5h0M420.6 149.8h0M423.3 119.1h0M413.3 91.2h0M412.9 105.2h0M409.2 94.8h0M418.2 37.3h0M419.4 45.7h0M417.4 112.1h0M424.9 74.1h0M421.2 112.9h0M417.1 150.7h0M410.7 96.9h0M411.1 87.9h0M416.6 79.9h0M414.7 68.1h0M412.2 83.7h0M408.7 80.4h0M409.3 85.4h0M409.8 86.0h0M419.8 120.8h0M418.8 111.1h0M421.2 105.4h0M409.2 77.6h0M412.2 100.0h0M417.7 144.0h0M409.4 85.6h0M416.7 47.5h0M408.7 83.1h0M414.4 114.6h0M420.7 155.7h0M411.7 117.5h0M421.2 116.0h0M420.5 81.1h0M409.0 91.1h0M420.7 143.4h0M410.2 102.0h0M413.7 129.3h0M428.2 79.2h0M417.0 125.0h0M409.7 71.9h0M428.2 89.5h0M420.5 77.7h0M416.1 87.8h0M426.5 79.9h0M428.7 92.5h0M426.7 101.7h0M414.8 118.3h0M408.2 101.2h0M412.8 121.7h0M421.8 114.7h0M418.7 84.9h0M414.2 101.1h0M425.7 99.4h0M419.1 146.4h0M415.8 60.9h0M412.7 69.5h0M423.1 101.6h0M416.4 109.2h0M417.1 124.1h0M427.7 98.1h0M422.7 130.0h0M420.9 85.7h0M415.7 142.9h0M410.3 82.2h0M417.5 83.2h0M410.2 103.7h0M418.6 82.0h0M428.3 84.0h0M425.8 110.8h0M415.4 143.0h0M412.8 90.4h0M413.4 105.1h0M424.7 116.5h0M426.1 74.6h0M415.9 143.2h0M416.7 160.1h0M412.6 83.2h0M419.2 132.0h0M422.3 120.7h0M425.3 84.1h0M425.7 96.9h0M410.2 99.2h0M417.0 112.0h0M415.0 79.9h0M416.1 51.4h0M420.5 91.9h0M420.8 100.8h0M419.0 48.5h0M419.3 75.0h0M422.0 90.9h0M415.5 121.3h0M420.1 54.7h0M419.7 55.3h0M415.4 139.4h0M426.7 107.3h0M421.6 145.0h0M416.5 48.7h0M424.2 67.3h0M425.2 70.8h0M418.5 111.5h0M420.0 79.3h0M420.1 136.0h0M421.4 101.0h0M409.2 107.2h0M411.0 91.6h0M419.5 74.1h0M417.4 159.6h0M413.9 78.8h0M416.3 96.1h0M418.8 81.6h0M415.3 75.9h0M415.2 79.7h0M425.0 75.8h0M415.1 148.7h0M424.6 69.6h0M423.2 115.1h0M419.2 154.6h0M413.2 127.0h0M418.7 54.2h0M418.1 146.3h0M422.9 116.5h0M419.2 138.2h0M412.8 65.3h0M416.7 136.9h0M418.0 49.4h0M419.7 114.4h0M427.7 76.5h0M410.7 68.8h0M419.0 78.3h0M408.2 98.3h0M413.5 60.6h0M408.5 99.1h0M411.7 87.7h0M415.5 101.4h0"/>
<line x1="406.20" y1="94.50" x2="430.20" y2="94.50" stroke="#d6a92a" stroke-width="1.8" stroke-opacity="0.9"/>
<path d="M452.8 38.0 L452.3 50.0 L451.6 59.0 L449.6 62.0 L446.6 66.0 L443.1 73.7 L441.6 80.0 L443.1 86.3 L444.4 95.2 L446.1 107.2 L446.8 115.0 L448.0 123.6 L449.1 131.0 L448.6 139.0 L449.7 148.0 L450.0 157.0 L450.4 168.0 L452.6 173.0 L454.6 173.0 L456.8 168.0 L457.2 157.0 L457.5 148.0 L458.6 139.0 L458.1 131.0 L459.2 123.6 L460.4 115.0 L461.1 107.2 L462.8 95.2 L464.1 86.3 L465.6 80.0 L464.1 73.7 L460.6 66.0 L457.6 62.0 L455.6 59.0 L454.9 50.0 L454.4 38.0Z" fill="#d8dadd"/>
<line x1="444.30" y1="95.50" x2="462.90" y2="95.50" stroke="#d6a92a" stroke-width="1.9"/>
<path d="M453.1 38.0 L452.9 50.0 L452.6 59.0 L452.1 61.5 L448.3 62.2 L449.6 63.5 L446.6 68.0 L443.9 73.7 L442.6 80.0 L446.5 86.3 L447.8 95.2 L448.5 107.0 L448.9 115.3 L449.9 123.6 L451.9 130.8 L450.0 139.0 L451.5 148.3 L451.5 156.6 L451.8 168.0 L453.1 173.0 L454.1 173.0 L455.4 168.0 L455.7 156.6 L455.7 148.3 L457.2 139.0 L455.3 130.8 L457.3 123.6 L458.3 115.3 L458.7 107.0 L459.4 95.2 L460.7 86.3 L464.6 80.0 L463.3 73.7 L460.6 68.0 L457.6 63.5 L458.9 62.2 L455.1 61.5 L454.6 59.0 L454.3 50.0 L454.1 38.0Z" fill="#5e5e5e"/>
<path stroke="#3a3a3a" stroke-width="1.8" stroke-linecap="round" fill="none" d="M453.6 38.9h0.1M454.1 40.2h0.1M454.1 42.0h0.1M453.6 43.5h0.1M453.9 45.1h0.1M453.6 46.6h0.1M454.1 48.1h0.1M454.1 49.7h0.1M453.9 51.5h0.1M454.1 52.8h0.1M453.5 54.5h0.3M454.0 56.2h0.1M453.9 57.3h0.1M453.7 59.2h0.3M453.2 60.6h1.1M449.3 62.2h2.7M454.5 62.2h1.5M450.1 63.9h1.7M456.7 63.6h0.4M449.5 65.1h0.7M452.3 65.1h1.8M456.5 65.1h1.7M448.6 66.8h0.9M447.1 68.3h1.6M456.5 68.6h3.5M450.1 69.9h3.2M455.3 70.1h1.1M458.7 69.9h1.4M451.7 71.5h2.9M456.5 71.5h2.3M461.2 71.3h0.5M445.3 73.1h4.1M451.8 73.0h1.6M460.4 73.0h2.0M444.9 74.4h3.8M456.0 74.8h3.5M461.4 74.3h1.5M444.0 76.1h3.1M449.6 76.0h1.6M453.1 76.2h2.4M461.4 76.0h1.8M444.4 77.5h4.0M455.8 77.7h4.2M462.1 77.5h1.4M443.4 79.3h1.2M446.8 79.2h1.6M450.6 79.3h4.0M456.5 79.0h4.0M462.5 79.1h1.3M444.0 80.6h1.7M448.0 80.7h0.9M450.8 80.7h3.3M456.0 80.8h3.3M461.3 80.9h0.8M445.0 82.2h1.6M452.7 82.4h2.2M456.9 82.2h2.4M461.7 82.2h0.9M445.7 83.8h3.5M451.3 84.1h3.2M457.0 83.9h2.4M461.4 83.9h0.2M446.9 85.2h4.0M459.3 85.2h1.4M447.9 87.1h3.4M457.1 86.7h2.9M447.5 88.6h3.7M453.1 88.3h2.6M457.9 88.4h1.2M447.8 90.2h1.3M451.2 90.0h1.7M454.9 90.2h3.8M448.4 91.8h3.1M453.9 91.8h1.6M448.8 93.4h2.5M453.6 93.0h2.9M458.3 93.0h0.8M457.1 94.9h1.7M449.1 96.1h2.9M454.1 96.1h4.2M448.8 97.6h3.3M454.4 97.9h3.8M448.9 99.3h2.4M453.1 99.1h3.9M459.0 99.2h0.1M453.6 100.9h0.1M449.4 102.5h2.2M453.5 102.3h1.0M456.6 102.6h1.8M449.0 104.1h2.2M453.1 103.9h3.5M449.1 105.7h2.7M453.6 105.3h3.0M449.8 107.1h2.1M454.0 107.3h3.8M449.9 108.7h2.5M454.2 108.9h3.4M449.8 110.0h3.4M455.6 110.3h1.8M449.4 111.6h2.2M454.1 111.6h2.8M449.8 113.1h3.9M455.6 113.3h2.2M454.3 115.0h2.3M450.0 116.6h1.3M453.7 116.3h3.9M450.5 118.1h3.5M456.1 117.8h1.2M454.3 119.3h1.2M450.2 121.2h1.4M450.7 122.4h1.2M454.4 122.7h2.4M451.0 124.3h3.5M456.9 124.4h0.1M451.2 125.6h2.8M456.4 125.6h0.1M452.0 127.1h1.9M456.2 127.4h0.1M453.6 128.8h0.1M452.8 130.1h2.0M452.8 131.9h2.2M452.4 133.6h2.9M453.6 135.0h0.1M451.6 136.5h2.0M455.9 136.4h0.2M451.3 138.2h1.3M454.6 138.2h1.8M456.7 139.6h0.1M451.2 141.0h2.9M456.0 141.2h0.2M451.6 142.5h2.9M451.6 144.5h1.5M453.6 145.8h0.1M452.3 147.4h2.8M452.9 148.9h1.4M453.6 150.5h0.1M452.3 151.8h2.8M452.8 153.6h1.1M452.5 155.0h1.5M456.0 155.2h0.1M453.6 156.7h0.1M452.4 158.1h1.2M452.6 159.9h2.4M452.7 161.4h1.2M455.8 161.3h0.1M452.5 162.7h2.4M452.6 164.3h1.8M452.5 166.0h2.3M453.6 167.6h0.1M453.5 169.0h1.0M453.6 170.5h0.5M453.9 172.2h0.1"/>
<path d="M488.2 40.5 L487.5 48.6 L485.9 57.0 L482.7 64.3 L479.1 71.7 L477.5 77.9 L479.1 86.3 L480.6 97.8 L480.7 107.2 L482.0 115.3 L483.6 125.6 L484.4 136.0 L485.1 146.3 L485.6 156.6 L486.7 167.0 L488.2 174.1 L489.8 174.1 L491.3 167.0 L492.4 156.6 L492.9 146.3 L493.6 136.0 L494.4 125.6 L496.0 115.3 L497.3 107.2 L497.4 97.8 L498.9 86.3 L500.5 77.9 L498.9 71.7 L495.3 64.3 L492.1 57.0 L490.5 48.6 L489.8 40.5Z" fill="#d8dadd"/>
<path stroke="#6670c2" stroke-width="1.94" stroke-linecap="round" fill="none" d="M489.0 53.2h0M489.0 167.1h0M489.0 69.8h0M489.0 66.2h0M489.0 111.6h0M489.0 97.0h0M489.0 157.4h0M487.0 97.8h0M489.0 120.3h0M487.5 68.2h0M489.0 132.5h0M489.0 83.0h0M489.0 88.8h0M489.0 108.3h0M491.5 82.8h0M490.0 106.3h0M486.5 70.2h0M491.0 71.1h0M487.0 90.3h0M489.0 75.2h0M493.0 69.8h0M489.0 127.5h0M491.0 68.3h0M491.0 95.8h0M487.0 128.7h0M489.0 141.0h0M489.0 148.6h0M489.0 86.4h0M487.5 84.5h0M491.0 85.0h0M487.5 131.0h0M491.5 132.0h0M487.0 73.8h0M491.0 89.9h0M489.0 91.7h0M491.5 119.7h0M489.0 99.8h0M490.5 126.0h0M486.5 107.8h0M487.0 119.5h0M485.5 131.9h0M489.0 152.8h0M490.5 93.4h0M491.0 98.0h0M486.5 141.4h0M485.5 83.5h0M487.5 165.3h0M487.5 76.7h0M485.0 68.3h0M489.0 144.6h0M493.0 67.4h0M493.5 98.0h0M494.0 83.1h0M484.5 98.0h0M491.0 109.2h0M489.0 79.4h0M489.0 114.0h0M489.0 161.7h0M483.0 67.2h0M489.0 103.8h0M482.5 98.8h0M487.0 80.3h0M483.5 82.4h0M487.0 104.9h0M492.0 91.8h0M481.5 83.4h0M489.0 60.7h0M488.5 124.9h0M490.5 77.9h0M491.5 140.8h0M485.5 77.8h0M491.5 75.6h0M489.0 116.1h0M486.5 125.7h0M484.0 70.3h0M485.0 109.4h0M493.0 78.4h0M493.5 89.8h0M495.5 96.6h0M489.0 42.1h0M495.0 77.3h0M491.5 113.8h0M495.0 71.3h0M487.0 114.6h0M488.4 140.7h0M490.5 102.1h0M496.0 83.8h0M493.5 85.4h0M486.5 66.1h0M492.0 124.2h0M491.0 80.4h0M489.0 72.1h0M491.0 128.4h0M487.0 143.5h0M487.0 59.5h0M495.0 69.0h0M492.5 126.7h0M491.5 65.8h0M488.0 101.9h0M490.3 97.4h0M485.5 102.1h0M485.5 91.9h0M484.5 119.8h0M492.0 107.3h0M485.0 124.0h0M486.5 111.5h0M491.5 104.3h0M485.5 75.3h0M492.5 72.9h0M491.1 128.7h0M487.0 117.1h0M491.5 157.5h0M491.0 87.3h0M486.5 139.3h0M493.0 115.4h0M485.0 72.4h0M495.4 97.6h0M486.5 152.3h0M491.0 145.3h0M483.5 76.2h0M491.0 116.9h0M484.0 79.4h0M484.0 85.4h0M498.0 82.6h0M488.5 94.6h0M489.0 122.7h0M484.5 107.1h0M485.0 128.5h0M485.0 89.1h0M489.4 130.8h0M495.0 91.4h0M486.6 127.0h0M488.4 130.9h0M491.5 60.4h0M489.7 98.3h0M482.5 72.8h0M487.8 129.2h0M493.5 65.0h0M494.0 103.7h0M485.3 125.9h0M483.5 103.0h0M481.5 77.3h0M480.0 85.2h0M492.5 100.8h0M484.2 124.2h0M480.0 81.9h0M483.5 92.9h0M485.0 64.6h0M487.0 87.3h0M494.0 84.5h0M481.5 96.9h0M495.0 87.1h0M480.5 71.4h0M489.5 150.6h0M494.0 122.9h0M491.5 111.5h0M494.4 67.5h0M494.0 74.4h0M482.0 86.7h0M497.5 87.2h0M496.5 103.3h0M494.5 79.9h0M491.0 154.0h0M493.0 117.8h0M486.8 139.8h0M491.4 128.2h0M497.0 72.7h0M497.0 69.8h0M489.0 55.4h0M481.7 103.1h0M493.5 110.4h0M485.2 102.0h0M496.5 72.4h0M486.5 148.9h0M485.0 126.4h0M489.7 87.6h0M493.0 60.8h0M497.5 77.9h0M485.3 70.0h0M486.0 95.2h0M492.3 81.9h0M489.0 137.1h0M491.0 135.9h0M496.0 81.5h0M481.0 92.7h0M482.0 69.5h0M491.7 81.4h0M489.5 72.9h0M491.0 121.9h0M490.5 142.8h0M487.1 83.2h0M490.3 85.3h0M496.2 102.1h0M493.0 95.1h0M490.5 144.4h0M486.9 152.6h0M492.2 86.4h0M496.0 75.3h0M492.5 84.3h0M479.0 76.7h0M491.1 81.0h0M480.5 73.9h0M490.0 125.9h0M490.9 104.3h0M491.0 138.5h0M488.0 71.8h0M494.0 108.0h0M494.5 118.5h0M480.6 78.2h0M480.5 88.4h0M488.4 66.9h0M496.3 71.9h0M497.5 86.2h0M493.4 64.9h0M482.0 80.9h0M494.2 70.3h0M485.9 66.3h0M491.8 131.6h0M483.5 95.6h0M483.0 90.1h0M492.0 86.3h0M489.0 58.3h0M497.0 92.2h0M493.6 122.6h0M485.4 129.2h0M488.3 144.5h0M495.4 69.2h0M484.5 112.7h0M499.5 78.9h0M494.6 101.9h0M494.7 80.2h0M496.5 89.7h0M480.6 72.0h0M494.0 91.7h0M490.1 87.8h0M486.5 122.2h0M483.0 111.0h0M487.3 85.4h0M486.4 131.2h0M486.3 126.0h0M496.0 99.6h0M486.4 104.3h0M485.0 115.5h0M488.1 144.9h0M487.6 154.6h0M489.3 65.9h0M487.2 101.6h0M488.0 150.1h0M489.8 101.9h0M488.5 132.8h0M495.5 109.6h0M487.9 64.6h0M492.8 133.0h0M484.9 95.3h0M487.1 130.3h0M479.0 79.7h0M499.0 76.2h0M495.5 106.2h0M489.1 68.5h0M489.3 95.8h0M492.3 64.3h0M487.3 140.9h0M486.3 132.0h0M482.5 105.7h0M493.0 79.8h0M489.4 121.6h0M490.5 144.3h0M481.2 76.0h0M495.5 111.9h0M490.0 168.6h0M486.2 93.1h0M489.6 128.2h0M482.6 81.5h0M490.2 60.7h0M486.0 67.0h0M495.1 90.3h0M487.4 127.2h0M499.2 77.9h0M482.5 108.2h0M486.7 81.2h0M497.3 75.1h0M491.5 57.7h0M495.3 104.6h0M490.2 84.3h0M490.7 126.6h0M488.2 133.3h0M484.4 105.8h0M487.1 109.4h0M483.0 116.3h0M492.7 127.6h0M492.3 66.1h0M485.0 74.5h0M484.6 108.4h0M489.9 129.0h0M494.6 97.6h0M491.4 99.5h0M490.4 111.4h0M490.9 86.8h0M492.0 131.2h0M492.9 75.5h0M489.5 128.8h0M486.0 99.8h0M487.0 86.9h0M494.3 91.5h0M484.4 88.1h0M496.9 75.1h0M486.1 143.5h0M481.8 89.4h0M484.7 108.6h0M484.8 112.3h0M479.0 75.5h0M497.3 86.0h0M491.1 111.3h0M487.0 56.1h0M484.5 102.8h0M486.1 108.5h0M490.5 163.4h0M488.5 102.8h0M486.0 61.5h0M489.4 161.8h0M487.0 126.0h0M493.5 113.1h0M486.8 90.8h0M492.8 71.3h0M489.4 68.4h0M482.9 71.7h0M482.8 112.2h0M489.9 76.3h0M485.6 86.1h0M486.5 157.2h0M494.9 82.9h0M491.5 150.0h0M487.2 88.4h0M490.9 99.4h0M491.2 124.4h0M489.1 142.2h0M485.6 107.4h0M485.7 98.3h0M486.7 123.9h0M494.1 99.0h0M486.7 148.9h0M478.4 77.7h0M486.7 154.5h0M490.3 79.4h0M487.7 129.3h0M494.7 104.4h0M485.9 105.7h0M490.3 167.2h0M496.3 88.5h0M489.9 164.6h0M493.2 89.3h0M484.1 82.2h0M496.5 94.7h0M488.1 147.1h0M496.8 94.0h0M489.8 75.8h0M483.7 114.4h0M494.1 102.4h0M496.2 106.0h0M489.0 83.7h0M487.8 120.3h0M490.0 92.3h0M484.5 71.1h0M481.5 94.8h0M485.8 98.4h0M488.2 82.3h0M486.1 68.4h0M491.0 107.7h0M493.1 69.9h0M488.6 88.4h0"/>
<line x1="480.80" y1="97.90" x2="497.60" y2="97.90" stroke="#d6a92a" stroke-width="1.8" stroke-opacity="0.9"/>
<path d="M395.2 25.4V191.8M394.6 191.2H512M391.5 27.7H395.2M391.5 64.4H395.2M391.5 100.8H395.2M391.5 137.2H395.2M391.5 173.8H395.2" stroke="#231f20" stroke-width="1.3" fill="none"/>
<line x1="418.00" y1="191.20" x2="418.00" y2="194.60" stroke="#231f20" stroke-width="1.2"/>
<line x1="453.50" y1="191.20" x2="453.50" y2="194.60" stroke="#231f20" stroke-width="1.2"/>
<line x1="489.00" y1="191.20" x2="489.00" y2="194.60" stroke="#231f20" stroke-width="1.2"/>
<text x="388.00" y="30.90" font-size="8.8" text-anchor="end" textLength="10.30" lengthAdjust="spacingAndGlyphs" stroke="#231f20" stroke-width="0.32">80</text>
<text x="388.00" y="67.60" font-size="8.8" text-anchor="end" textLength="10.30" lengthAdjust="spacingAndGlyphs" stroke="#231f20" stroke-width="0.32">70</text>
<text x="388.00" y="104.00" font-size="8.8" text-anchor="end" textLength="10.30" lengthAdjust="spacingAndGlyphs" stroke="#231f20" stroke-width="0.32">60</text>
<text x="388.00" y="140.40" font-size="8.8" text-anchor="end" textLength="10.30" lengthAdjust="spacingAndGlyphs" stroke="#231f20" stroke-width="0.32">50</text>
<text x="388.00" y="177.00" font-size="8.8" text-anchor="end" textLength="10.30" lengthAdjust="spacingAndGlyphs" stroke="#231f20" stroke-width="0.32">40</text>
<text x="404.90" y="186.10" font-size="8.8" textLength="29.20" lengthAdjust="spacingAndGlyphs" stroke="#231f20" stroke-width="0.32">P=0.12</text>
<text x="371.70" y="151.00" font-size="10.7" textLength="85.80" lengthAdjust="spacingAndGlyphs" stroke="#231f20" stroke-width="0.32" transform="rotate(-90 371.70 151.00)">Age at transplantation</text>
<text x="406.00" y="266.90" font-size="11.0" textLength="94.00" lengthAdjust="spacingAndGlyphs" stroke="#231f20" stroke-width="0.32">Telomere length quartile</text>
<text x="423.00" y="201.50" font-size="9.4" text-anchor="end" textLength="38.00" lengthAdjust="spacingAndGlyphs" stroke="#231f20" stroke-width="0.32" transform="rotate(-45 423.00 201.50)">Shortest</text>
<text x="457.00" y="202.00" font-size="9.4" text-anchor="end" textLength="61.00" lengthAdjust="spacingAndGlyphs" stroke="#231f20" stroke-width="0.32" transform="rotate(-45 457.00 202.00)">Intermediatde</text>
<text x="466.00" y="209.00" font-size="9.4" text-anchor="end" stroke="#231f20" stroke-width="0.32" transform="rotate(-45 466.00 209.00)">(2<tspan font-size="6" dy="-3">nd</tspan><tspan dy="3"> and 3</tspan><tspan font-size="6" dy="-3">rd</tspan><tspan dy="3">)</tspan></text>
<text x="493.50" y="202.00" font-size="9.4" text-anchor="end" textLength="36.00" lengthAdjust="spacingAndGlyphs" stroke="#231f20" stroke-width="0.32" transform="rotate(-45 493.50 202.00)">Longest</text>
<text x="8.40" y="290.40" font-size="13.4" textLength="8.70" lengthAdjust="spacingAndGlyphs" font-weight="bold" fill="#000" stroke="#000" stroke-width="0.4">C</text>
<rect x="59.60" y="300.60" width="439.90" height="84.90" fill="#dedeee"/>
<rect x="59.60" y="395.50" width="439.90" height="26.00" fill="#e5d9d2"/>
<rect x="63.00" y="396.00" width="9.6" height="2" fill="#c9a530"/>
<rect x="76.55" y="395.00" width="9.6" height="2" fill="#c9a530"/>
<rect x="90.10" y="394.00" width="9.6" height="2" fill="#c9a530"/>
<rect x="103.65" y="392.50" width="9.6" height="2" fill="#c9a530"/>
<rect x="117.20" y="392.00" width="9.6" height="2" fill="#c9a530"/>
<rect x="130.75" y="392.00" width="9.6" height="2" fill="#c9a530"/>
<rect x="144.30" y="391.00" width="9.6" height="2" fill="#c9a530"/>
<rect x="157.85" y="391.00" width="9.6" height="2" fill="#c9a530"/>
<rect x="171.40" y="391.00" width="9.6" height="2" fill="#c9a530"/>
<rect x="184.95" y="390.60" width="9.6" height="2" fill="#c9a530"/>
<rect x="198.50" y="390.60" width="9.6" height="2" fill="#c9a530"/>
<rect x="212.05" y="390.50" width="9.6" height="2" fill="#c9a530"/>
<rect x="225.60" y="391.00" width="9.6" height="2" fill="#c9a530"/>
<rect x="239.15" y="390.00" width="9.6" height="2" fill="#c9a530"/>
<rect x="252.70" y="390.00" width="9.6" height="2" fill="#c9a530"/>
<rect x="266.25" y="390.00" width="9.6" height="2" fill="#c9a530"/>
<rect x="279.80" y="390.00" width="9.6" height="2" fill="#c9a530"/>
<rect x="293.35" y="390.00" width="9.6" height="2" fill="#c9a530"/>
<rect x="306.90" y="390.00" width="9.6" height="2" fill="#c9a530"/>
<rect x="320.45" y="390.00" width="9.6" height="2" fill="#c9a530"/>
<rect x="334.00" y="390.00" width="9.6" height="2" fill="#c9a530"/>
<rect x="347.55" y="390.00" width="9.6" height="2" fill="#c9a530"/>
<rect x="361.10" y="390.00" width="9.6" height="2" fill="#c9a530"/>
<rect x="374.65" y="389.00" width="9.6" height="2" fill="#c9a530"/>
<rect x="388.20" y="387.75" width="9.6" height="2" fill="#c9a530"/>
<rect x="401.75" y="388.00" width="9.6" height="2" fill="#c9a530"/>
<rect x="415.30" y="387.75" width="9.6" height="2" fill="#c9a530"/>
<rect x="428.85" y="387.00" width="9.6" height="2" fill="#c9a530"/>
<rect x="442.40" y="387.00" width="9.6" height="2" fill="#c9a530"/>
<rect x="455.95" y="387.00" width="9.6" height="2" fill="#c9a530"/>
<rect x="469.50" y="385.25" width="9.6" height="2" fill="#c9a530"/>
<rect x="483.05" y="384.00" width="9.6" height="2" fill="#c9a530"/>
<path stroke="#151515" stroke-width="1.7" stroke-linecap="round" fill="none" d="M67.8 400.2h0M68.8 400.4h0M67.8 385.5h0M67.8 396.7h0M67.8 393.9h0M68.8 393.8h0M68.8 396.2h0M67.8 401.5h0M67.8 372.0h0M68.8 385.9h0M68.8 397.2h0M67.8 403.5h0M66.8 401.1h0M67.8 395.2h0M66.8 396.4h0M67.8 376.7h0M81.3 399.4h0M82.4 399.9h0M81.3 398.0h0M80.3 399.1h0M81.3 381.0h0M83.1 399.0h0M81.3 393.8h0M79.2 399.0h0M81.3 387.3h0M81.3 389.4h0M81.3 406.0h0M82.4 397.7h0M82.0 381.8h0M81.3 400.7h0M81.3 380.0h0M81.3 394.8h0M94.9 385.6h0M94.9 395.5h0M94.9 411.5h0M94.9 410.4h0M94.9 404.8h0M94.9 399.3h0M94.9 391.6h0M94.9 393.4h0M95.6 404.0h0M94.9 373.0h0M94.9 378.5h0M94.6 403.8h0M94.9 384.5h0M96.0 398.9h0M96.0 391.4h0M96.0 393.6h0M108.5 411.8h0M108.5 387.1h0M108.5 399.1h0M108.5 412.9h0M108.5 401.0h0M108.5 397.0h0M108.5 367.1h0M108.5 395.3h0M109.2 398.4h0M109.2 396.3h0M108.5 365.0h0M109.5 386.7h0M108.5 386.0h0M108.5 392.0h0M108.5 368.2h0M108.5 410.2h0M107.4 398.6h0M107.8 397.7h0M109.2 394.6h0M109.5 413.0h0M108.5 379.8h0M107.4 395.1h0M108.5 389.2h0M109.5 400.4h0M122.0 390.8h0M122.0 392.4h0M122.0 393.7h0M122.0 388.4h0M123.0 390.7h0M122.0 379.0h0M122.0 407.0h0M122.0 402.2h0M121.0 390.2h0M122.0 396.0h0M121.0 391.1h0M122.0 398.6h0M123.0 391.9h0M122.0 385.1h0M123.0 398.0h0M122.7 396.7h0M124.1 390.1h0M121.0 398.3h0M120.2 391.8h0M119.9 390.9h0M122.0 394.6h0M121.3 396.8h0M135.6 380.5h0M135.6 370.8h0M135.6 394.0h0M135.6 397.3h0M135.6 390.3h0M135.6 402.7h0M135.6 374.2h0M135.6 388.2h0M136.6 397.7h0M136.6 389.8h0M135.6 387.2h0M135.6 405.2h0M135.6 392.0h0M135.6 400.3h0M135.6 408.2h0M136.2 400.9h0M135.6 407.0h0M135.6 395.8h0M136.6 388.7h0M135.6 378.9h0M136.6 399.8h0M136.6 405.4h0M135.6 384.2h0M136.2 391.2h0M134.5 400.9h0M136.6 407.7h0M135.6 371.8h0M136.6 394.3h0M134.5 397.3h0M137.3 400.7h0M134.5 388.1h0M134.5 391.9h0M135.6 386.1h0M134.5 394.5h0M136.6 378.7h0M136.2 392.7h0M134.5 405.2h0M137.3 391.4h0M136.6 402.8h0M137.7 394.4h0M136.2 409.0h0M136.6 387.2h0M134.5 402.7h0M135.2 399.4h0M134.5 387.0h0M137.3 392.7h0M136.6 395.6h0M133.5 394.7h0M133.5 392.3h0M134.9 389.6h0M137.0 386.3h0M137.7 405.1h0M135.6 376.3h0M138.4 392.7h0M134.5 396.2h0M133.8 400.1h0M137.3 396.3h0M134.9 393.2h0M138.4 391.7h0M133.5 395.7h0M138.7 394.6h0M135.6 403.8h0M133.5 397.0h0M135.6 369.0h0M132.4 392.4h0M138.4 400.5h0M138.4 396.4h0M132.4 397.1h0M136.6 371.9h0M137.7 387.6h0M136.2 396.5h0M135.6 381.6h0M149.1 385.6h0M149.1 391.2h0M149.1 407.0h0M149.1 398.8h0M149.1 387.1h0M150.2 387.1h0M149.1 393.2h0M150.2 386.0h0M150.2 393.5h0M148.1 386.6h0M149.1 380.9h0M149.8 384.9h0M150.2 391.1h0M149.1 379.0h0M148.1 391.2h0M149.1 401.0h0M149.5 380.0h0M151.2 390.6h0M162.7 387.4h0M162.7 401.0h0M162.7 389.9h0M162.7 406.9h0M162.7 399.2h0M162.7 395.6h0M162.7 359.0h0M162.7 396.7h0M162.7 377.8h0M162.7 379.2h0M162.7 411.5h0M163.0 390.8h0M162.7 394.4h0M162.0 391.1h0M163.3 391.7h0M162.7 372.8h0M162.7 408.3h0M164.1 391.0h0M162.7 404.0h0M163.7 406.6h0M160.9 391.7h0M162.7 381.8h0M163.3 397.3h0M161.6 396.7h0M163.7 395.1h0M163.0 388.3h0M162.7 385.5h0M163.7 390.1h0M163.7 381.8h0M163.7 387.1h0M176.2 388.3h0M176.2 382.9h0M176.9 387.7h0M176.2 386.8h0M176.2 385.4h0M176.2 394.1h0M176.2 402.3h0M177.2 388.9h0M175.5 389.1h0M176.2 401.3h0M174.4 389.2h0M177.2 386.8h0M175.1 387.9h0M176.2 381.8h0M176.2 390.6h0M176.9 391.2h0M176.9 390.0h0M177.2 400.9h0M175.1 390.2h0M176.2 392.7h0M177.2 392.4h0M177.2 381.8h0M175.1 386.9h0M175.1 381.4h0M174.4 382.1h0M176.2 396.1h0M177.9 386.2h0M178.3 388.9h0M176.2 397.4h0M177.9 381.2h0M176.9 403.0h0M175.1 393.0h0M177.6 393.3h0M177.2 397.3h0M176.2 374.0h0M176.2 399.7h0M174.1 393.2h0M177.9 391.0h0M177.2 399.9h0M174.1 390.2h0M176.2 398.6h0M173.4 389.4h0M176.2 384.0h0M178.3 392.5h0M177.9 388.0h0M175.5 396.7h0M179.3 388.7h0M176.2 344.0h0M189.8 399.5h0M189.8 384.2h0M189.8 386.4h0M189.8 394.9h0M189.8 390.1h0M190.8 399.5h0M190.1 398.6h0M189.8 408.5h0M189.8 379.0h0M189.8 401.3h0M189.8 393.3h0M190.4 389.3h0M189.8 403.5h0M190.8 393.4h0M190.8 403.7h0M189.8 379.9h0M203.3 400.5h0M203.3 395.4h0M203.3 394.1h0M204.4 400.3h0M203.3 397.1h0M203.3 408.0h0M203.3 381.8h0M203.3 398.1h0M203.3 387.0h0M204.4 407.8h0M203.7 399.0h0M203.3 388.7h0M204.4 395.8h0M202.6 396.3h0M201.6 396.1h0M204.4 397.8h0M204.7 396.9h0M203.3 384.0h0M203.3 376.0h0M204.4 389.3h0M202.6 399.6h0M203.3 391.9h0M216.9 389.2h0M216.9 401.2h0M216.9 384.1h0M216.9 377.3h0M216.9 396.8h0M216.9 393.1h0M216.9 364.6h0M216.9 390.9h0M217.2 393.9h0M216.9 382.5h0M216.9 387.6h0M216.9 406.1h0M217.2 397.6h0M216.9 398.6h0M217.6 388.2h0M216.5 388.5h0M216.9 375.3h0M217.6 389.7h0M216.9 380.5h0M216.2 393.5h0M217.6 392.4h0M217.6 391.6h0M218.3 393.8h0M215.1 393.7h0M216.9 374.2h0M216.9 407.2h0M217.6 399.2h0M217.2 383.3h0M216.9 400.1h0M216.5 391.7h0M216.9 402.1h0M215.5 388.2h0M216.9 379.4h0M217.9 402.0h0M219.3 393.7h0M215.8 392.2h0M218.6 388.6h0M215.8 398.9h0M216.9 394.7h0M216.9 404.5h0M217.9 400.4h0M216.9 411.4h0M217.6 396.2h0M216.9 369.8h0M217.9 397.0h0M214.8 388.6h0M216.9 408.5h0M215.8 402.3h0M216.9 385.2h0M216.9 378.4h0M216.9 372.6h0M216.9 410.4h0M219.3 388.0h0M217.6 378.0h0M216.2 400.6h0M218.6 391.8h0M216.9 359.0h0M217.6 405.4h0M216.5 390.0h0M214.8 392.1h0M217.9 380.1h0M216.2 398.2h0M215.8 378.0h0M216.9 386.6h0M218.3 390.2h0M215.8 406.1h0M218.6 392.8h0M216.9 395.7h0M217.9 379.3h0M215.8 404.8h0M216.2 380.9h0M217.9 364.5h0M217.6 373.1h0M217.6 387.1h0M217.9 395.4h0M215.8 389.0h0M215.5 401.0h0M218.3 377.5h0M215.8 394.6h0M217.6 376.8h0M217.9 384.4h0M214.1 393.8h0M218.3 405.9h0M216.2 387.1h0M219.7 392.8h0M218.3 394.6h0M215.1 377.5h0M216.2 376.8h0M216.2 383.4h0M215.8 391.3h0M218.6 401.1h0M217.6 386.0h0M217.6 381.1h0M219.0 406.5h0M216.9 368.3h0M217.9 382.8h0M218.6 390.9h0M215.8 397.1h0M217.9 411.6h0M216.9 361.8h0M216.9 413.0h0M216.5 405.3h0M216.9 367.2h0M218.3 387.8h0M215.1 387.1h0M215.5 390.0h0M215.1 395.1h0M215.5 400.2h0M216.2 385.9h0M220.0 394.3h0M219.7 388.8h0M220.4 393.3h0M215.8 395.8h0M219.0 395.6h0M217.6 381.9h0M219.3 390.3h0M217.6 409.1h0M218.3 398.8h0M216.2 384.8h0M219.0 397.1h0M214.8 399.0h0M218.6 386.9h0M219.0 399.4h0M214.1 389.1h0M215.1 405.2h0M215.8 379.5h0M214.8 397.5h0M219.0 379.5h0M219.7 386.7h0M214.8 379.6h0M220.7 389.1h0M214.4 390.2h0M216.2 373.7h0M215.5 384.2h0M216.9 403.5h0M220.0 389.6h0M219.0 384.2h0M220.4 390.5h0M219.3 398.6h0M213.0 394.0h0M217.9 385.3h0M217.6 359.5h0M215.1 390.7h0M219.0 389.4h0M213.0 388.8h0M219.7 391.9h0M218.6 381.0h0M214.4 394.6h0M217.9 407.6h0M213.4 393.2h0M214.8 406.2h0M221.4 393.4h0M217.2 371.8h0M215.1 396.5h0M215.5 381.4h0M216.2 371.6h0M214.4 401.4h0M219.7 397.5h0M216.9 362.9h0M215.8 359.1h0M213.7 397.7h0M212.3 389.4h0M221.1 394.3h0M216.2 382.1h0M215.5 393.0h0M214.1 396.7h0M219.7 396.5h0M215.8 408.8h0M213.4 389.6h0M212.0 394.1h0M214.1 387.9h0M218.6 408.9h0M218.6 383.3h0M216.2 411.9h0M221.4 389.7h0M214.4 386.7h0M219.3 394.8h0M214.1 391.7h0M213.4 386.5h0M213.7 390.9h0M217.6 406.7h0M222.1 394.4h0M214.8 381.0h0M218.6 386.1h0M213.0 390.4h0M220.4 388.0h0M213.4 392.3h0M217.9 374.3h0M215.8 407.6h0M216.2 409.8h0M211.6 389.8h0M222.5 389.7h0M220.4 391.4h0M220.7 387.0h0M214.1 379.3h0M217.6 376.0h0M222.5 393.6h0M220.7 397.3h0M211.3 394.6h0M210.6 393.9h0M221.4 388.1h0M215.1 386.1h0M230.4 397.6h0M230.4 387.3h0M230.4 378.1h0M230.4 394.4h0M230.4 391.5h0M230.4 380.0h0M230.4 384.3h0M231.5 397.8h0M231.5 394.0h0M230.4 367.1h0M231.1 383.7h0M231.1 385.0h0M230.4 403.7h0M230.4 402.4h0M231.5 391.1h0M230.4 392.5h0M229.4 391.1h0M230.4 362.9h0M229.4 384.2h0M229.4 397.7h0M232.2 397.0h0M230.4 400.6h0M231.1 404.4h0M230.4 399.5h0M230.4 354.1h0M231.1 395.0h0M230.4 376.8h0M231.5 392.5h0M229.7 385.2h0M231.5 387.4h0M230.8 393.4h0M229.7 395.1h0M229.4 386.7h0M230.4 353.0h0M229.4 394.0h0M230.4 382.5h0M230.4 371.6h0M231.5 353.6h0M231.5 402.3h0M231.1 378.9h0M229.4 404.0h0M230.4 406.0h0M230.4 381.4h0M229.4 402.2h0M232.2 395.3h0M231.1 376.2h0M231.5 400.2h0M228.7 395.2h0M229.4 393.1h0M232.5 392.6h0M229.7 405.2h0M232.5 401.9h0M231.1 380.6h0M232.9 394.5h0M230.1 375.7h0M232.2 403.0h0M231.5 377.6h0M231.1 363.5h0M229.4 399.9h0M231.5 381.6h0M230.4 373.6h0M230.4 364.8h0M229.7 379.3h0M228.3 397.2h0M231.5 367.0h0M230.4 389.9h0M232.5 390.7h0M229.0 376.2h0M228.7 387.5h0M229.4 363.0h0M232.2 383.7h0M232.5 387.4h0M230.4 370.2h0M231.5 375.2h0M227.6 394.7h0M232.2 385.2h0M232.5 400.0h0M232.2 363.5h0M231.5 389.7h0M232.2 398.4h0M229.4 401.0h0M230.4 388.9h0M229.4 389.0h0M230.4 374.6h0M232.2 376.2h0M231.5 370.0h0M232.5 389.5h0M228.3 389.1h0M230.4 398.5h0M231.8 379.5h0M233.6 389.1h0M228.3 391.0h0M231.5 382.5h0M231.5 388.6h0M227.3 388.6h0M228.3 383.6h0M226.6 389.3h0M233.6 387.8h0M229.4 353.8h0M228.3 392.5h0M228.7 379.4h0M228.3 399.8h0M243.9 395.1h0M243.9 369.1h0M243.9 372.9h0M243.9 402.7h0M244.6 394.3h0M243.9 398.6h0M245.0 372.6h0M243.9 406.0h0M243.9 396.4h0M243.9 376.6h0M243.9 392.4h0M245.0 395.4h0M243.9 403.7h0M243.9 386.8h0M243.9 388.0h0M244.6 388.6h0M243.9 401.4h0M244.6 375.7h0M242.9 395.4h0M242.9 388.1h0M245.0 398.1h0M245.0 403.9h0M243.9 393.5h0M245.0 392.9h0M242.9 403.2h0M243.6 375.5h0M242.9 393.5h0M245.7 388.8h0M242.9 376.5h0M243.9 384.1h0M243.9 366.4h0M245.7 394.0h0M246.0 395.1h0M243.9 389.9h0M242.9 398.2h0M241.8 388.7h0M242.2 394.3h0M241.1 394.8h0M247.1 394.8h0M243.9 397.5h0M245.0 402.6h0M242.2 392.9h0M245.7 398.7h0M240.1 394.3h0M245.0 384.5h0M243.9 400.4h0M243.9 382.9h0M243.9 391.5h0M245.0 387.3h0M243.2 394.5h0M245.0 391.5h0M246.8 393.8h0M246.0 387.6h0M243.2 372.1h0M243.9 381.7h0M243.9 377.5h0M245.0 369.1h0M247.8 395.4h0M243.2 390.8h0M243.9 385.5h0M243.9 374.4h0M242.9 386.7h0M248.1 394.2h0M243.6 388.9h0M243.9 362.0h0M246.8 389.2h0M242.2 387.4h0M245.0 401.6h0M246.0 392.5h0M239.0 393.9h0M241.1 392.7h0M247.1 392.8h0M240.8 388.9h0M246.0 403.8h0M245.7 386.7h0M245.0 397.0h0M241.8 403.7h0M241.1 387.2h0M247.8 389.2h0M245.7 390.7h0M245.0 400.6h0M245.0 405.4h0M245.0 390.0h0M239.8 388.5h0M242.2 390.3h0M240.1 392.9h0M242.9 400.8h0M246.8 390.6h0M248.1 392.9h0M239.0 392.9h0M240.1 395.4h0M242.9 396.8h0M257.5 400.4h0M257.5 397.6h0M257.5 389.0h0M257.5 381.8h0M257.5 391.8h0M257.5 396.3h0M257.5 387.3h0M257.5 393.5h0M258.6 400.6h0M258.2 386.7h0M258.6 392.0h0M258.6 396.8h0M257.5 377.7h0M257.5 402.5h0M256.4 396.0h0M257.5 389.9h0M257.1 386.1h0M257.5 403.6h0M256.4 386.8h0M258.6 390.5h0M256.4 397.2h0M256.8 392.7h0M257.5 404.9h0M255.8 392.5h0M257.5 365.8h0M257.5 372.1h0M258.6 405.0h0M258.6 387.9h0M257.5 378.8h0M257.9 385.3h0M258.6 371.6h0M259.2 386.5h0M258.2 394.3h0M256.4 391.2h0M258.6 393.1h0M256.4 390.0h0M257.5 376.3h0M259.6 397.0h0M259.6 390.3h0M258.6 376.7h0M259.6 391.8h0M256.8 388.1h0M255.8 388.4h0M255.4 397.4h0M260.6 397.1h0M258.6 372.6h0M257.5 362.0h0M256.4 385.5h0M260.3 392.6h0M257.5 384.5h0M258.2 383.7h0M258.2 395.5h0M271.1 379.0h0M271.1 384.9h0M271.1 397.6h0M271.1 393.2h0M271.1 363.8h0M271.1 392.2h0M272.1 397.1h0M271.1 388.3h0M271.1 404.7h0M271.4 391.3h0M271.1 367.9h0M271.1 382.9h0M271.1 401.0h0M272.1 367.4h0M271.1 389.6h0M272.1 401.2h0M272.1 388.2h0M272.1 392.5h0M271.1 375.4h0M271.4 387.5h0M270.4 390.9h0M270.4 387.4h0M272.1 405.0h0M271.1 399.7h0M271.1 376.9h0M271.1 386.5h0M270.4 401.7h0M271.1 378.0h0M271.1 402.6h0M270.0 392.0h0M272.1 399.7h0M272.1 379.0h0M271.1 407.5h0M272.1 402.3h0M269.3 387.8h0M272.1 385.3h0M272.4 391.3h0M272.4 387.1h0M272.1 407.4h0M273.2 392.1h0M269.3 391.3h0M270.0 400.1h0M270.4 398.9h0M272.1 383.5h0M271.1 396.6h0M271.4 403.9h0M271.1 369.8h0M271.8 398.8h0M271.8 390.3h0M271.1 362.9h0M270.0 397.7h0M270.0 388.9h0M268.9 392.4h0M269.7 390.3h0M270.0 384.7h0M270.0 379.3h0M270.0 386.1h0M272.8 388.8h0M272.4 389.7h0M273.5 389.9h0M271.1 371.3h0M269.3 400.7h0M270.0 396.4h0M272.1 396.0h0M268.6 390.0h0M272.8 399.0h0M271.1 394.7h0M269.3 386.7h0M273.2 396.8h0M271.1 364.8h0M271.1 380.5h0M271.8 393.9h0M271.1 360.0h0M270.0 395.2h0M268.9 396.9h0M272.8 394.4h0M273.9 388.3h0M270.4 393.8h0M273.5 391.1h0M268.9 388.8h0M270.0 408.0h0M269.3 385.5h0M273.2 385.8h0M269.3 402.3h0M273.5 386.8h0M269.3 398.9h0M267.9 389.3h0M267.9 390.7h0M268.2 391.7h0M274.6 390.4h0M273.5 398.3h0M268.2 399.1h0M274.2 399.1h0M274.6 391.6h0M269.3 394.1h0M269.3 407.2h0M270.0 404.8h0M267.2 389.9h0M271.1 365.8h0M267.2 391.5h0M273.2 401.4h0M273.2 406.9h0M271.1 381.9h0M274.2 392.5h0M271.1 361.1h0M270.0 383.0h0M273.2 378.9h0M272.4 404.0h0M273.2 402.4h0M271.1 406.1h0M267.9 392.7h0M272.8 400.3h0M284.6 387.2h0M284.6 369.3h0M284.6 355.9h0M284.6 383.7h0M284.6 394.6h0M285.3 387.9h0M284.6 376.5h0M284.6 409.2h0M284.6 393.2h0M285.3 410.0h0M284.6 370.3h0M284.6 388.8h0M285.3 389.6h0M284.6 405.1h0M284.6 399.3h0M284.6 391.6h0M284.6 380.5h0M284.6 381.5h0M285.7 393.6h0M285.7 399.7h0M285.3 392.3h0M284.6 400.3h0M283.9 389.5h0M283.6 391.6h0M285.0 386.3h0M283.9 386.5h0M285.7 383.6h0M283.6 384.0h0M285.7 370.3h0M283.6 399.2h0M285.3 368.7h0M284.6 354.5h0M283.6 387.5h0M285.3 408.6h0M284.6 384.9h0M283.9 408.4h0M285.7 376.2h0M286.0 387.2h0M284.6 359.9h0M282.5 387.1h0M284.6 378.6h0M284.6 403.6h0M285.7 404.9h0M284.6 396.2h0M286.4 388.3h0M284.6 407.7h0M285.3 377.9h0M286.4 398.9h0M285.7 403.9h0M286.0 386.2h0M284.6 406.7h0M283.6 375.9h0M285.7 396.6h0M283.2 390.2h0M286.4 391.8h0M286.4 390.0h0M284.2 377.8h0M286.7 383.8h0M282.9 389.2h0M284.6 390.5h0M285.7 385.0h0M284.6 347.3h0M282.5 384.2h0M285.7 390.9h0M285.7 407.4h0M285.7 394.7h0M287.1 386.9h0M283.9 395.2h0M283.6 404.5h0M286.7 384.8h0M281.5 386.8h0M283.2 378.3h0M284.6 374.3h0M282.9 385.9h0M282.5 388.3h0M286.4 395.4h0M284.6 372.9h0M283.6 393.4h0M285.7 379.1h0M286.7 393.2h0M283.6 370.9h0M285.3 373.7h0M287.8 383.9h0M285.7 381.9h0M283.9 379.7h0M287.1 390.7h0M287.8 387.5h0M284.6 344.0h0M286.7 379.0h0M282.5 379.0h0M283.6 381.1h0M287.1 389.2h0M281.8 388.9h0M283.6 374.0h0M287.1 385.9h0M288.1 389.3h0M284.6 366.4h0M298.2 393.9h0M298.2 378.9h0M298.2 390.5h0M298.2 406.0h0M298.2 376.2h0M298.2 367.0h0M299.2 376.8h0M298.2 377.5h0M298.2 399.4h0M299.2 378.0h0M298.2 401.7h0M298.2 392.1h0M299.2 393.5h0M298.2 396.2h0M298.2 387.8h0M298.9 391.5h0M311.7 382.5h0M311.7 360.6h0M311.7 380.8h0M311.7 413.0h0M311.7 363.6h0M311.7 372.1h0M311.7 383.7h0M311.7 374.0h0M311.7 408.4h0M312.8 408.3h0M311.7 362.4h0M311.7 384.8h0M311.7 401.3h0M312.8 382.2h0M311.7 377.1h0M311.7 391.4h0M311.7 394.0h0M311.7 395.2h0M310.6 381.3h0M311.7 388.8h0M311.7 387.0h0M312.4 376.4h0M311.7 403.4h0M312.8 364.1h0M311.7 349.0h0M310.6 377.2h0M312.8 394.0h0M312.8 384.6h0M312.8 389.4h0M310.6 389.0h0M311.7 404.6h0M312.4 392.0h0M311.7 379.1h0M311.7 400.3h0M311.7 367.0h0M312.8 367.1h0M313.8 389.5h0M325.2 389.2h0M325.2 394.6h0M325.2 393.4h0M325.2 396.3h0M325.2 378.7h0M325.2 384.4h0M326.3 389.8h0M325.2 380.3h0M324.6 389.9h0M325.2 388.3h0M325.2 397.7h0M325.2 408.0h0M325.2 390.7h0M326.3 388.2h0M325.9 395.2h0M325.2 400.1h0M324.2 394.5h0M326.3 397.7h0M325.2 386.6h0M325.2 366.0h0M326.3 393.2h0M326.3 396.6h0M326.3 384.0h0M325.9 379.6h0M338.8 383.4h0M338.8 387.7h0M338.8 406.0h0M338.8 381.8h0M338.8 397.9h0M339.5 387.0h0M338.8 384.8h0M338.8 396.2h0M338.8 369.0h0M338.8 401.2h0M339.9 397.6h0M338.4 386.7h0M337.4 386.6h0M338.8 403.5h0M338.8 385.8h0M339.9 387.9h0M339.9 395.7h0M339.9 385.6h0M338.8 391.5h0M338.8 376.5h0M338.8 389.6h0M337.8 385.7h0M339.9 391.4h0M338.8 394.8h0M338.8 372.8h0M339.5 381.0h0M339.9 390.0h0M340.6 387.2h0M337.8 397.4h0M339.9 403.0h0M352.4 382.5h0M352.4 394.4h0M352.4 387.7h0M352.4 375.3h0M352.4 369.0h0M352.4 388.5h0M352.4 399.0h0M352.4 400.9h0M352.4 405.2h0M352.4 381.4h0M353.4 405.3h0M353.4 398.9h0M353.4 375.1h0M352.4 370.3h0M352.4 395.6h0M352.4 407.4h0M353.1 380.7h0M352.4 402.4h0M352.4 384.7h0M353.1 383.1h0M351.3 405.4h0M351.3 399.2h0M353.4 369.0h0M352.4 364.7h0M352.4 391.3h0M352.4 385.6h0M352.7 399.7h0M353.1 381.8h0M353.8 399.9h0M353.4 391.1h0M352.4 392.4h0M350.6 399.9h0M352.4 390.3h0M352.4 386.5h0M352.0 380.5h0M353.4 388.4h0M352.4 383.8h0M352.4 367.8h0M352.4 396.6h0M352.4 376.3h0M353.4 402.6h0M353.4 376.3h0M352.4 344.0h0M352.4 363.9h0M352.4 377.9h0M353.1 394.8h0M352.4 372.9h0M352.4 408.5h0M353.4 401.1h0M352.7 398.2h0M352.7 389.5h0M353.4 390.1h0M351.7 389.3h0M352.4 374.4h0M351.0 388.6h0M354.5 399.3h0M353.1 373.8h0M352.7 393.1h0M351.7 392.9h0M351.7 400.3h0M354.1 388.9h0M352.7 365.5h0M353.4 396.8h0M353.1 370.9h0M352.4 406.5h0M352.4 403.5h0M351.3 369.0h0M351.3 396.7h0M353.4 384.0h0M353.1 378.4h0M351.3 376.5h0M353.4 393.7h0M353.4 387.6h0M351.7 390.9h0M351.7 375.8h0M351.3 382.7h0M352.0 378.7h0M352.4 345.0h0M350.6 397.2h0M351.0 391.5h0M351.7 402.9h0M351.0 390.3h0M350.2 398.9h0M351.7 394.8h0M354.1 391.6h0M353.8 392.8h0M353.4 384.9h0M349.9 391.7h0M352.4 371.8h0M351.3 385.0h0M349.6 399.5h0M353.4 403.8h0M351.0 380.8h0M353.4 377.6h0M352.4 357.4h0M354.5 390.3h0M354.1 403.0h0M354.1 376.9h0M351.3 387.4h0M351.7 398.1h0M351.0 394.3h0M351.7 401.9h0M352.7 379.8h0M350.6 393.2h0M354.8 400.0h0M354.5 387.4h0M351.7 365.5h0M350.6 387.0h0M353.1 356.7h0M352.4 359.9h0M354.1 396.4h0M351.3 384.0h0M353.4 386.5h0M354.5 393.9h0M353.4 345.0h0M352.4 355.4h0M354.8 392.5h0M351.0 401.3h0M352.4 351.8h0M354.8 386.7h0M349.6 386.8h0M349.9 390.7h0M349.9 387.5h0M354.8 391.1h0M354.1 375.5h0M350.6 389.6h0M353.8 395.4h0M349.9 394.1h0M353.4 408.4h0M353.4 406.1h0M354.8 388.3h0M353.8 382.3h0M355.2 393.6h0M353.4 351.6h0M349.9 392.6h0M349.6 393.3h0M353.4 371.9h0M353.8 378.9h0M353.8 381.4h0M349.9 388.5h0M350.6 402.9h0M350.6 382.1h0M353.1 396.0h0M351.3 378.2h0M354.5 381.0h0M351.3 385.9h0M350.2 376.6h0M355.9 388.4h0M355.9 387.1h0M348.5 386.6h0M348.9 388.4h0M356.6 386.4h0M356.9 388.6h0M354.5 405.4h0M354.5 384.0h0M354.8 381.8h0M350.2 405.8h0M354.1 385.5h0M351.7 345.4h0M355.5 399.1h0M355.9 399.9h0M354.5 400.8h0M355.2 389.2h0M349.9 401.2h0M347.8 387.1h0M354.1 368.5h0M350.2 368.6h0M352.4 358.7h0M353.8 380.1h0M349.9 396.7h0M354.1 401.7h0M354.5 378.5h0M355.9 390.8h0M348.5 399.3h0M355.2 394.4h0M353.1 354.8h0M351.3 372.0h0M355.5 405.7h0M350.6 396.2h0M355.5 391.7h0M353.4 364.8h0M348.9 394.1h0M349.6 389.8h0M348.9 400.2h0M350.6 378.9h0M355.2 396.1h0M350.2 377.9h0M349.6 378.8h0M348.9 391.6h0M351.0 392.4h0M348.9 389.5h0M354.1 398.3h0M352.4 313.0h0M365.9 385.6h0M365.9 402.5h0M365.9 381.1h0M366.6 385.0h0M365.9 390.5h0M365.9 378.8h0M366.3 386.5h0M365.9 383.3h0M365.9 395.9h0M365.9 394.0h0M366.6 389.8h0M365.9 404.0h0M365.6 384.4h0M365.9 396.9h0M365.9 398.5h0M365.9 359.6h0M366.6 394.7h0M365.9 376.8h0M364.9 385.0h0M364.9 390.0h0M365.9 391.5h0M367.0 378.6h0M365.9 372.9h0M366.6 372.2h0M367.0 382.9h0M365.9 389.1h0M365.9 387.8h0M379.5 372.4h0M379.5 373.6h0M379.5 391.0h0M379.8 374.5h0M379.5 394.9h0M380.5 372.0h0M379.5 398.8h0M380.5 395.2h0M379.5 380.8h0M380.5 372.9h0M378.4 395.2h0M379.5 387.4h0M379.5 410.0h0M379.5 368.5h0M380.2 386.6h0M380.2 391.7h0M380.5 398.6h0M379.1 386.3h0M379.5 405.4h0M380.5 405.9h0M379.5 408.1h0M379.5 393.0h0M379.5 353.0h0M379.5 382.0h0M379.5 401.5h0M379.5 383.6h0M379.5 366.0h0M393.0 382.8h0M393.0 394.6h0M393.0 386.3h0M393.0 402.5h0M393.7 395.4h0M392.0 395.1h0M393.0 392.0h0M393.0 393.7h0M393.0 376.0h0M393.0 377.8h0M393.0 388.6h0M393.0 400.2h0M393.7 383.4h0M393.0 406.0h0M394.8 394.9h0M393.0 375.0h0M393.7 405.3h0M393.0 380.5h0M393.0 396.5h0M394.1 388.4h0M406.6 394.5h0M406.6 380.6h0M406.6 399.5h0M406.6 346.4h0M406.6 378.3h0M406.6 401.8h0M406.6 385.7h0M407.6 399.6h0M406.6 387.4h0M406.6 408.0h0M406.6 377.1h0M406.6 372.9h0M407.6 394.8h0M407.2 385.0h0M406.6 397.9h0M406.6 390.4h0M406.6 388.8h0M407.6 377.2h0M405.5 399.9h0M407.6 378.5h0M407.2 398.6h0M405.5 394.5h0M406.6 371.8h0M404.8 395.2h0M407.6 390.2h0M405.5 378.8h0M406.6 392.7h0M406.2 384.8h0M407.6 372.1h0M406.6 404.3h0M406.6 366.1h0M407.2 379.8h0M407.6 402.1h0M406.2 379.5h0M405.2 399.0h0M408.3 398.9h0M406.6 374.5h0M406.6 405.3h0M406.6 353.4h0M407.6 388.8h0M407.2 391.1h0M406.6 383.1h0M406.6 358.7h0M405.5 389.0h0M406.6 356.3h0M404.4 398.2h0M407.6 386.3h0M406.2 391.4h0M406.6 402.9h0M408.7 395.3h0M406.6 369.2h0M407.6 397.7h0M406.6 406.4h0M407.6 383.1h0M406.6 344.0h0M406.9 370.1h0M408.3 389.4h0M407.6 381.1h0M408.7 378.5h0M407.6 403.9h0M405.5 390.3h0M409.4 398.3h0M405.2 391.3h0M406.6 376.1h0M407.2 393.4h0M405.5 386.0h0M407.2 373.7h0M405.5 401.5h0M404.8 402.3h0M406.6 381.6h0M409.0 399.5h0M408.7 390.3h0M406.6 331.8h0M420.1 395.9h0M420.1 386.0h0M420.1 391.3h0M420.1 407.8h0M420.1 404.6h0M420.1 388.0h0M420.1 393.7h0M420.1 392.7h0M420.1 363.3h0M420.1 381.3h0M420.1 384.4h0M421.2 363.3h0M420.1 394.9h0M420.5 388.8h0M420.8 385.4h0M420.1 373.8h0M421.2 386.2h0M420.1 350.4h0M420.1 403.0h0M421.2 373.9h0M420.1 366.1h0M420.1 367.4h0M420.8 395.4h0M421.2 392.5h0M420.1 359.8h0M419.1 386.4h0M420.1 387.0h0M421.2 388.4h0M420.1 364.8h0M421.2 393.8h0M420.8 380.7h0M420.8 405.0h0M420.1 371.0h0M420.1 380.2h0M420.1 360.9h0M420.8 383.9h0M420.1 398.2h0M419.1 387.7h0M419.4 405.0h0M422.2 386.5h0M421.2 371.0h0M420.1 379.1h0M420.1 390.0h0M419.1 393.4h0M420.8 389.6h0M420.1 372.8h0M421.9 387.9h0M420.8 381.9h0M419.1 389.8h0M421.9 392.9h0M420.8 396.4h0M421.5 390.0h0M419.8 385.1h0M421.9 405.3h0M420.1 406.7h0M419.1 395.0h0M418.0 387.8h0M419.1 371.4h0M420.1 375.3h0M420.1 346.0h0M420.1 409.4h0M420.8 368.0h0M420.1 410.4h0M421.2 379.5h0M420.1 369.5h0M418.4 405.1h0M418.0 390.0h0M421.2 408.1h0M420.8 370.0h0M420.1 383.4h0M422.6 390.0h0M419.8 368.2h0M418.0 393.4h0M420.1 356.9h0M419.1 380.0h0M421.5 389.2h0M421.2 387.1h0M420.1 376.9h0M420.1 345.0h0M419.4 388.5h0M420.8 374.6h0M417.0 389.8h0M420.1 353.2h0M419.1 369.8h0M421.2 406.6h0M419.1 395.9h0M422.6 388.4h0M422.9 387.1h0M421.9 385.7h0M421.2 357.0h0M422.6 393.5h0M419.1 384.1h0M421.9 396.2h0M421.2 364.8h0M418.4 386.0h0M420.8 382.9h0M418.0 395.9h0M419.1 379.2h0M417.0 387.6h0M419.1 406.4h0M420.8 398.6h0M419.4 382.8h0M421.9 383.9h0M419.4 408.5h0M421.2 391.3h0M421.2 366.1h0M423.6 387.6h0M421.2 409.2h0M418.7 392.7h0M422.2 406.5h0M419.4 381.9h0M421.2 403.0h0M421.9 371.6h0M419.4 373.2h0M420.1 344.0h0M420.1 400.6h0M420.5 399.8h0M418.4 386.9h0M421.2 352.8h0M417.0 393.7h0M419.4 390.9h0M415.9 388.0h0M419.4 392.2h0M420.8 359.2h0M418.0 383.8h0M418.7 391.7h0M422.9 384.2h0M422.9 385.8h0M418.4 384.6h0M421.9 382.5h0M423.6 393.2h0M419.8 399.2h0M418.7 383.3h0M422.2 379.4h0M422.6 392.3h0M424.0 388.3h0M420.1 396.9h0M418.7 370.7h0M418.0 371.1h0M421.2 377.3h0M424.7 387.8h0M417.3 386.1h0M421.2 410.3h0M419.4 377.6h0M420.1 402.1h0M421.5 404.4h0M417.7 392.4h0M421.9 370.6h0M420.5 376.1h0M423.6 390.1h0M418.7 407.8h0M418.4 389.2h0M421.2 400.6h0M421.2 344.7h0M421.5 381.5h0M423.2 389.1h0M419.1 376.5h0M419.1 375.0h0M419.4 403.7h0M417.3 390.7h0M421.5 399.6h0M417.7 385.4h0M419.4 401.0h0M421.9 390.9h0M420.1 412.5h0M421.9 373.2h0M418.0 379.1h0M419.4 394.2h0M423.6 385.2h0M418.7 398.9h0M415.9 390.0h0M419.1 365.0h0M417.0 383.6h0M421.9 394.5h0M423.2 379.3h0M422.2 399.0h0M418.0 394.8h0M422.9 396.0h0M419.1 402.9h0M421.9 403.6h0M420.1 348.0h0M418.4 403.3h0M418.7 409.1h0M420.5 371.8h0M418.7 373.7h0M419.4 364.2h0M418.7 400.5h0M421.9 391.9h0M422.6 404.8h0M420.1 349.1h0M421.5 376.2h0M421.5 380.2h0M423.6 386.5h0M419.1 399.7h0M421.9 401.3h0M420.8 401.6h0M417.7 403.7h0M416.6 385.6h0M420.1 361.7h0M417.0 379.2h0M420.8 411.9h0M422.2 400.0h0M420.5 377.9h0M421.9 365.6h0M421.5 378.1h0M417.7 398.6h0M424.3 379.1h0M417.0 395.7h0M419.1 356.8h0M418.4 381.8h0M423.2 391.9h0M418.0 382.6h0M418.0 406.7h0M418.0 380.2h0M424.7 385.5h0M420.1 355.6h0M420.8 355.1h0M415.9 378.9h0M422.6 391.5h0M420.5 403.7h0M417.7 388.5h0M416.6 392.1h0M419.1 402.0h0M421.9 408.8h0M417.7 373.4h0M421.2 350.4h0M417.3 384.5h0M422.9 398.5h0M422.6 380.5h0M415.2 388.3h0M421.2 347.9h0M421.5 375.0h0M422.9 406.9h0M422.9 403.4h0M418.0 391.3h0M424.0 384.4h0M420.1 405.7h0M416.2 379.6h0M423.6 383.6h0M422.6 382.1h0M418.4 376.0h0M415.2 387.5h0M416.6 386.7h0M416.2 384.1h0M423.6 396.4h0M425.4 378.9h0M417.0 403.3h0M422.9 370.4h0M421.2 384.7h0M424.0 403.5h0M424.7 383.5h0M424.3 391.7h0M424.3 389.7h0M418.4 377.5h0M419.1 366.3h0M416.2 391.3h0M421.2 345.8h0M414.9 379.1h0M422.9 371.6h0M423.2 399.3h0M415.9 403.1h0M422.6 383.0h0M419.1 344.8h0M424.3 392.7h0M418.0 399.9h0M425.7 387.8h0M422.6 385.0h0M424.7 386.6h0M416.2 393.1h0M416.6 388.4h0M415.9 385.1h0M414.2 387.4h0M420.8 390.5h0M418.0 374.9h0M424.3 395.7h0M426.8 387.7h0M425.0 379.7h0M421.2 397.8h0M421.9 407.6h0M418.7 368.0h0M413.1 387.6h0M417.0 399.9h0M421.9 368.3h0M416.2 403.9h0M415.6 383.5h0M424.0 400.0h0M417.3 371.6h0M422.9 394.3h0M419.1 410.1h0M415.2 389.3h0M424.0 394.2h0M420.5 368.7h0M420.1 331.8h0M433.7 380.2h0M434.7 379.8h0M433.7 398.4h0M433.7 383.7h0M434.7 398.3h0M433.7 405.8h0M433.7 403.1h0M433.7 384.7h0M433.7 395.9h0M433.7 393.0h0M433.7 377.3h0M434.4 395.2h0M433.0 379.4h0M434.4 381.0h0M433.7 365.4h0M434.7 365.4h0M434.7 396.1h0M433.7 344.0h0M433.7 354.6h0M432.6 396.5h0M433.7 373.3h0M432.3 395.5h0M433.7 410.0h0M433.7 387.7h0M433.7 381.7h0M434.7 383.5h0M434.7 377.1h0M435.8 396.4h0M433.7 362.5h0M434.0 406.7h0M434.7 387.6h0M432.6 381.3h0M432.6 398.5h0M434.4 388.5h0M433.0 386.9h0M433.7 390.1h0M431.9 387.1h0M447.2 376.0h0M447.2 397.8h0M447.2 389.4h0M447.2 385.4h0M447.2 388.1h0M448.3 385.4h0M447.2 382.5h0M447.2 380.3h0M447.2 383.4h0M447.9 387.4h0M447.2 392.5h0M447.2 371.5h0M447.9 391.8h0M446.2 385.1h0M447.2 386.7h0M448.3 383.7h0M448.3 380.1h0M447.9 381.7h0M447.2 408.0h0M447.2 369.0h0M446.2 382.2h0M447.2 396.0h0M447.2 403.3h0M447.9 393.1h0M460.8 395.2h0M460.8 400.9h0M460.8 384.5h0M460.8 404.1h0M460.8 390.4h0M460.8 388.9h0M460.8 372.6h0M461.8 400.8h0M460.8 363.3h0M460.8 392.6h0M461.5 394.3h0M460.8 383.1h0M460.8 375.9h0M460.8 398.4h0M460.8 387.7h0M460.8 370.1h0M460.8 376.8h0M460.8 386.1h0M460.8 381.9h0M460.8 378.6h0M461.8 387.3h0M459.7 387.8h0M460.8 411.2h0M459.7 394.9h0M460.8 402.2h0M460.8 361.8h0M461.8 395.3h0M474.3 382.6h0M474.3 380.7h0M474.3 407.0h0M475.4 381.3h0M474.3 386.9h0M474.3 388.6h0M474.3 394.7h0M474.3 390.3h0M475.4 390.1h0M474.3 393.1h0M475.4 395.2h0M474.3 383.9h0M474.3 370.8h0M475.4 386.7h0M475.4 383.3h0M473.2 390.4h0M475.0 406.2h0M474.3 312.5h0M487.9 386.9h0M487.9 393.6h0M487.9 381.0h0M487.9 395.8h0M487.9 388.7h0M487.9 397.6h0M487.9 355.8h0M487.9 382.8h0M488.9 388.5h0M487.9 365.3h0M487.9 375.4h0M487.9 399.5h0M487.9 392.3h0M487.9 384.9h0M487.9 408.8h0M486.8 388.3h0M487.9 378.9h0M487.9 374.0h0M487.9 345.9h0M487.9 407.6h0M488.9 393.7h0M488.9 375.6h0M488.9 396.2h0M488.6 391.6h0M486.8 396.4h0M488.9 381.5h0M487.9 377.2h0M487.5 391.4h0M488.9 386.6h0M486.1 389.0h0M488.6 377.9h0M487.9 400.6h0M490.0 395.9h0M487.9 367.1h0M488.2 368.0h0M488.9 384.3h0M487.2 394.3h0M486.8 381.0h0M487.9 372.4h0M487.9 363.5h0M488.9 400.9h0M489.6 387.7h0M489.6 394.4h0M488.9 382.7h0M487.9 406.5h0M487.9 360.3h0M487.9 370.2h0M486.8 390.8h0M488.6 369.6h0M488.9 372.2h0M486.1 387.5h0M487.9 344.0h0M490.0 381.5h0M488.9 346.5h0M488.6 373.4h0M486.8 372.0h0M488.6 380.4h0M487.9 404.3h0M486.8 386.8h0M487.5 369.0h0M487.9 348.7h0M486.8 384.3h0M487.5 379.8h0M490.7 387.9h0M488.6 395.2h0M488.9 399.0h0M488.9 363.8h0M488.9 392.6h0M487.9 357.3h0M486.8 382.3h0M486.5 369.5h0M486.8 400.5h0M487.9 331.8h0"/>
<path d="M58.3 298.5V318.5M58.3 323.8V422.1M57.7 421.5H500M54.8 300.6H58.3M54.8 326.9H58.3M54.8 358.5H58.3M54.8 390.1H58.3M54.8 421.5H58.3" stroke="#231f20" stroke-width="1.3" fill="none"/>
<path d="M55.9 322L60.7 317.5M55.9 328L60.7 323.5" stroke="#231f20" stroke-width="1.1" fill="none"/>
<text x="51.60" y="303.80" font-size="8.8" text-anchor="end" textLength="12.20" lengthAdjust="spacingAndGlyphs" stroke="#231f20" stroke-width="0.32">3.0</text>
<text x="51.60" y="322.00" font-size="8.8" text-anchor="end" textLength="12.20" lengthAdjust="spacingAndGlyphs" stroke="#231f20" stroke-width="0.32">2.5</text>
<text x="51.60" y="329.50" font-size="8.8" text-anchor="end" textLength="12.20" lengthAdjust="spacingAndGlyphs" stroke="#231f20" stroke-width="0.32">1.5</text>
<text x="51.60" y="361.70" font-size="8.8" text-anchor="end" textLength="12.20" lengthAdjust="spacingAndGlyphs" stroke="#231f20" stroke-width="0.32">1.0</text>
<text x="51.60" y="393.30" font-size="8.8" text-anchor="end" textLength="12.20" lengthAdjust="spacingAndGlyphs" stroke="#231f20" stroke-width="0.32">0.5</text>
<text x="51.60" y="424.70" font-size="8.8" text-anchor="end" textLength="12.20" lengthAdjust="spacingAndGlyphs" stroke="#231f20" stroke-width="0.32">0.0</text>
<line x1="67.80" y1="421.50" x2="67.80" y2="425.00" stroke="#231f20" stroke-width="1.1"/>
<text x="70.20" y="432.00" font-size="9.0" text-anchor="end" transform="rotate(-45 70.20 432.00)" stroke="#231f20" stroke-width="0.18">WT1</text>
<line x1="81.35" y1="421.50" x2="81.35" y2="425.00" stroke="#231f20" stroke-width="1.1"/>
<text x="83.75" y="432.00" font-size="9.0" text-anchor="end" transform="rotate(-45 83.75 432.00)" stroke="#231f20" stroke-width="0.18">NPM1</text>
<line x1="94.90" y1="421.50" x2="94.90" y2="425.00" stroke="#231f20" stroke-width="1.1"/>
<text x="97.30" y="432.00" font-size="9.0" text-anchor="end" transform="rotate(-45 97.30 432.00)" stroke="#231f20" stroke-width="0.18">ATM</text>
<line x1="108.45" y1="421.50" x2="108.45" y2="425.00" stroke="#231f20" stroke-width="1.1"/>
<text x="110.85" y="432.00" font-size="9.0" text-anchor="end" transform="rotate(-45 110.85 432.00)" stroke="#231f20" stroke-width="0.18">CBL</text>
<line x1="122.00" y1="421.50" x2="122.00" y2="425.00" stroke="#231f20" stroke-width="1.1"/>
<text x="124.40" y="432.00" font-size="9.0" text-anchor="end" transform="rotate(-45 124.40 432.00)" stroke="#231f20" stroke-width="0.18">DDX41</text>
<line x1="135.55" y1="421.50" x2="135.55" y2="425.00" stroke="#231f20" stroke-width="1.1"/>
<text x="137.95" y="432.00" font-size="9.0" text-anchor="end" transform="rotate(-45 137.95 432.00)" stroke="#231f20" stroke-width="0.18">PPM1D</text>
<line x1="149.10" y1="421.50" x2="149.10" y2="425.00" stroke="#231f20" stroke-width="1.1"/>
<text x="151.50" y="432.00" font-size="9.0" text-anchor="end" transform="rotate(-45 151.50 432.00)" stroke="#231f20" stroke-width="0.18">GATA2</text>
<line x1="162.65" y1="421.50" x2="162.65" y2="425.00" stroke="#231f20" stroke-width="1.1"/>
<text x="165.05" y="432.00" font-size="9.0" text-anchor="end" transform="rotate(-45 165.05 432.00)" stroke="#231f20" stroke-width="0.18">PTPN11</text>
<line x1="176.20" y1="421.50" x2="176.20" y2="425.00" stroke="#231f20" stroke-width="1.1"/>
<text x="178.60" y="432.00" font-size="9.0" text-anchor="end" transform="rotate(-45 178.60 432.00)" stroke="#231f20" stroke-width="0.18">BCOR</text>
<line x1="189.75" y1="421.50" x2="189.75" y2="425.00" stroke="#231f20" stroke-width="1.1"/>
<text x="192.15" y="432.00" font-size="9.0" text-anchor="end" transform="rotate(-45 192.15 432.00)" stroke="#231f20" stroke-width="0.18">ETNK1</text>
<line x1="203.30" y1="421.50" x2="203.30" y2="425.00" stroke="#231f20" stroke-width="1.1"/>
<text x="205.70" y="432.00" font-size="9.0" text-anchor="end" transform="rotate(-45 205.70 432.00)" stroke="#231f20" stroke-width="0.18">ZRSR2</text>
<line x1="216.85" y1="421.50" x2="216.85" y2="425.00" stroke="#231f20" stroke-width="1.1"/>
<text x="219.25" y="432.00" font-size="9.0" text-anchor="end" transform="rotate(-45 219.25 432.00)" stroke="#231f20" stroke-width="0.18">TP53</text>
<line x1="230.40" y1="421.50" x2="230.40" y2="425.00" stroke="#231f20" stroke-width="1.1"/>
<text x="232.80" y="432.00" font-size="9.0" text-anchor="end" transform="rotate(-45 232.80 432.00)" stroke="#231f20" stroke-width="0.18">U2AF1</text>
<line x1="243.95" y1="421.50" x2="243.95" y2="425.00" stroke="#231f20" stroke-width="1.1"/>
<text x="246.35" y="432.00" font-size="9.0" text-anchor="end" transform="rotate(-45 246.35 432.00)" stroke="#231f20" stroke-width="0.18">SF3B1</text>
<line x1="257.50" y1="421.50" x2="257.50" y2="425.00" stroke="#231f20" stroke-width="1.1"/>
<text x="259.90" y="432.00" font-size="9.0" text-anchor="end" transform="rotate(-45 259.90 432.00)" stroke="#231f20" stroke-width="0.18">EZH2</text>
<line x1="271.05" y1="421.50" x2="271.05" y2="425.00" stroke="#231f20" stroke-width="1.1"/>
<text x="273.45" y="432.00" font-size="9.0" text-anchor="end" transform="rotate(-45 273.45 432.00)" stroke="#231f20" stroke-width="0.18">TET2</text>
<line x1="284.60" y1="421.50" x2="284.60" y2="425.00" stroke="#231f20" stroke-width="1.1"/>
<text x="287.00" y="432.00" font-size="9.0" text-anchor="end" transform="rotate(-45 287.00 432.00)" stroke="#231f20" stroke-width="0.18">RUNX1</text>
<line x1="298.15" y1="421.50" x2="298.15" y2="425.00" stroke="#231f20" stroke-width="1.1"/>
<text x="300.55" y="432.00" font-size="9.0" text-anchor="end" transform="rotate(-45 300.55 432.00)" stroke="#231f20" stroke-width="0.18">PRPF8</text>
<line x1="311.70" y1="421.50" x2="311.70" y2="425.00" stroke="#231f20" stroke-width="1.1"/>
<text x="314.10" y="432.00" font-size="9.0" text-anchor="end" transform="rotate(-45 314.10 432.00)" stroke="#231f20" stroke-width="0.18">SETBP1</text>
<line x1="325.25" y1="421.50" x2="325.25" y2="425.00" stroke="#231f20" stroke-width="1.1"/>
<text x="327.65" y="432.00" font-size="9.0" text-anchor="end" transform="rotate(-45 327.65 432.00)" stroke="#231f20" stroke-width="0.18">JAK2</text>
<line x1="338.80" y1="421.50" x2="338.80" y2="425.00" stroke="#231f20" stroke-width="1.1"/>
<text x="341.20" y="432.00" font-size="9.0" text-anchor="end" transform="rotate(-45 341.20 432.00)" stroke="#231f20" stroke-width="0.18">IDH2</text>
<line x1="352.35" y1="421.50" x2="352.35" y2="425.00" stroke="#231f20" stroke-width="1.1"/>
<text x="354.75" y="432.00" font-size="9.0" text-anchor="end" transform="rotate(-45 354.75 432.00)" stroke="#231f20" stroke-width="0.18">ASXL1</text>
<line x1="365.90" y1="421.50" x2="365.90" y2="425.00" stroke="#231f20" stroke-width="1.1"/>
<text x="368.30" y="432.00" font-size="9.0" text-anchor="end" transform="rotate(-45 368.30 432.00)" stroke="#231f20" stroke-width="0.18">PHF6</text>
<line x1="379.45" y1="421.50" x2="379.45" y2="425.00" stroke="#231f20" stroke-width="1.1"/>
<text x="381.85" y="432.00" font-size="9.0" text-anchor="end" transform="rotate(-45 381.85 432.00)" stroke="#231f20" stroke-width="0.18">ETV6</text>
<line x1="393.00" y1="421.50" x2="393.00" y2="425.00" stroke="#231f20" stroke-width="1.1"/>
<text x="395.40" y="432.00" font-size="9.0" text-anchor="end" transform="rotate(-45 395.40 432.00)" stroke="#231f20" stroke-width="0.18">IDH1</text>
<line x1="406.55" y1="421.50" x2="406.55" y2="425.00" stroke="#231f20" stroke-width="1.1"/>
<text x="408.95" y="432.00" font-size="9.0" text-anchor="end" transform="rotate(-45 408.95 432.00)" stroke="#231f20" stroke-width="0.18">STAG2</text>
<line x1="420.10" y1="421.50" x2="420.10" y2="425.00" stroke="#231f20" stroke-width="1.1"/>
<text x="422.50" y="432.00" font-size="9.0" text-anchor="end" transform="rotate(-45 422.50 432.00)" stroke="#231f20" stroke-width="0.18">DNMT3A</text>
<line x1="433.65" y1="421.50" x2="433.65" y2="425.00" stroke="#231f20" stroke-width="1.1"/>
<text x="436.05" y="432.00" font-size="9.0" text-anchor="end" transform="rotate(-45 436.05 432.00)" stroke="#231f20" stroke-width="0.18">NRAS</text>
<line x1="447.20" y1="421.50" x2="447.20" y2="425.00" stroke="#231f20" stroke-width="1.1"/>
<text x="449.60" y="432.00" font-size="9.0" text-anchor="end" transform="rotate(-45 449.60 432.00)" stroke="#231f20" stroke-width="0.18">CUX1</text>
<line x1="460.75" y1="421.50" x2="460.75" y2="425.00" stroke="#231f20" stroke-width="1.1"/>
<text x="463.15" y="432.00" font-size="9.0" text-anchor="end" transform="rotate(-45 463.15 432.00)" stroke="#231f20" stroke-width="0.18">KRAS</text>
<line x1="474.30" y1="421.50" x2="474.30" y2="425.00" stroke="#231f20" stroke-width="1.1"/>
<text x="476.70" y="432.00" font-size="9.0" text-anchor="end" transform="rotate(-45 476.70 432.00)" stroke="#231f20" stroke-width="0.18">NF1</text>
<line x1="487.85" y1="421.50" x2="487.85" y2="425.00" stroke="#231f20" stroke-width="1.1"/>
<text x="490.25" y="432.00" font-size="9.0" text-anchor="end" transform="rotate(-45 490.25 432.00)" stroke="#231f20" stroke-width="0.18">SRSF2</text>
<text x="33.00" y="400.90" font-size="10.4" textLength="94.50" lengthAdjust="spacingAndGlyphs" stroke="#231f20" stroke-width="0.32" transform="rotate(-90 33.00 400.90)">Relative telomere length</text>
<text x="8.60" y="478.90" font-size="13.2" textLength="8.60" lengthAdjust="spacingAndGlyphs" font-weight="bold" fill="#000" stroke="#000" stroke-width="0.4">D</text>
<text x="81.00" y="480.60" font-size="8.8" textLength="146.30" lengthAdjust="spacingAndGlyphs" stroke="#231f20" stroke-width="0.32">Number of patients with a mutation</text>
<circle cx="239.8" cy="478.1" r="1.4" fill="#c8c8ce" stroke="#231f20" stroke-width="1.1"/>
<text x="245.60" y="480.90" font-size="9.2" textLength="9.60" lengthAdjust="spacingAndGlyphs" stroke="#231f20" stroke-width="0.32">10</text>
<circle cx="266.7" cy="478.0" r="4.5" fill="#c8c8ce" stroke="#231f20" stroke-width="1.2"/>
<text x="274.80" y="480.90" font-size="9.2" textLength="10.20" lengthAdjust="spacingAndGlyphs" stroke="#231f20" stroke-width="0.32">95</text>
<circle cx="299.4" cy="478.0" r="7.6" fill="#c8c8ce" stroke="#231f20" stroke-width="1.2"/>
<text x="310.50" y="480.90" font-size="9.2" textLength="14.40" lengthAdjust="spacingAndGlyphs" stroke="#231f20" stroke-width="0.32">262</text>
<line x1="198.80" y1="492.10" x2="198.80" y2="680.00" stroke="#555" stroke-width="1.4"/>
<line x1="59.00" y1="655.50" x2="340.00" y2="655.50" stroke="#231f20" stroke-width="1.0" stroke-dasharray="1 1"/>
<circle cx="131.4" cy="655.8" r="2.3" fill="#cbcbd0" stroke="#231f20" stroke-width="1.15"/>
<circle cx="127.3" cy="660.6" r="2.3" fill="#cbcbd0" stroke="#231f20" stroke-width="1.15"/>
<circle cx="158.5" cy="663.8" r="3.0" fill="#cbcbd0" stroke="#231f20" stroke-width="1.15"/>
<circle cx="172.0" cy="656.5" r="5.6" fill="#cbcbd0" stroke="#231f20" stroke-width="1.15"/>
<circle cx="181.0" cy="659.0" r="7.8" fill="#cbcbd0" stroke="#231f20" stroke-width="1.15"/>
<circle cx="179.2" cy="667" r="4.0" fill="#cbcbd0" stroke="#231f20" stroke-width="1.15"/>
<circle cx="170.5" cy="670.3" r="2.8" fill="#cbcbd0" stroke="#231f20" stroke-width="1.15"/>
<circle cx="173.0" cy="675.8" r="2.5" fill="#cbcbd0" stroke="#231f20" stroke-width="1.15"/>
<circle cx="181.5" cy="677" r="2.2" fill="#cbcbd0" stroke="#231f20" stroke-width="1.15"/>
<circle cx="185.4" cy="674.6" r="3.5" fill="#cbcbd0" stroke="#231f20" stroke-width="1.15"/>
<circle cx="190" cy="677" r="2.5" fill="#cbcbd0" stroke="#231f20" stroke-width="1.15"/>
<circle cx="183.8" cy="679" r="1.5" fill="#cbcbd0" stroke="#231f20" stroke-width="1.15"/>
<circle cx="207.7" cy="673" r="6.5" fill="#cbcbd0" stroke="#231f20" stroke-width="1.15"/>
<circle cx="204.6" cy="674.6" r="7.0" fill="#cbcbd0" stroke="#231f20" stroke-width="1.15"/>
<circle cx="197.7" cy="676" r="5.5" fill="#cbcbd0" stroke="#231f20" stroke-width="1.15"/>
<circle cx="200" cy="677.7" r="5.0" fill="#cbcbd0" stroke="#231f20" stroke-width="1.15"/>
<circle cx="201.5" cy="679.5" r="2.5" fill="#cbcbd0" stroke="#231f20" stroke-width="1.15"/>
<circle cx="213" cy="679" r="2.0" fill="#cbcbd0" stroke="#231f20" stroke-width="1.15"/>
<circle cx="219.2" cy="679.5" r="2.0" fill="#cbcbd0" stroke="#231f20" stroke-width="1.15"/>
<circle cx="240.4" cy="667.6" r="2.2" fill="#cbcbd0" stroke="#231f20" stroke-width="1.15"/>
<circle cx="233.8" cy="673.6" r="2.0" fill="#cbcbd0" stroke="#231f20" stroke-width="1.15"/>
<circle cx="233.8" cy="677" r="2.0" fill="#cbcbd0" stroke="#231f20" stroke-width="1.15"/>
<circle cx="242.3" cy="669.8" r="2.2" fill="#cbcbd0" stroke="#231f20" stroke-width="1.15"/>
<circle cx="92.3" cy="652.6" r="1.9" fill="#a5052f"/>
<circle cx="126.8" cy="651.2" r="2.2" fill="#a5052f"/>
<circle cx="152.0" cy="637.2" r="4.8" fill="#a5052f"/>
<circle cx="298.1" cy="520.4" r="5.0" fill="#2e4b82" stroke="#22407a" stroke-width="0.6"/>
<circle cx="238.4" cy="610.7" r="7.4" fill="#2e4b82" stroke="#22407a" stroke-width="0.8"/>
<circle cx="232.9" cy="651.7" r="4.4" fill="#2e4b82" stroke="#22407a" stroke-width="0.6"/>
<text x="84.80" y="646.30" font-size="8.6" textLength="18.20" lengthAdjust="spacingAndGlyphs" font-style="italic" stroke="#231f20" stroke-width="0.32">ATM</text>
<text x="119.80" y="644.20" font-size="8.6" textLength="18.20" lengthAdjust="spacingAndGlyphs" font-style="italic" stroke="#231f20" stroke-width="0.32">WT1</text>
<text x="138.60" y="626.70" font-size="8.6" textLength="29.10" lengthAdjust="spacingAndGlyphs" font-style="italic" stroke="#231f20" stroke-width="0.32">PPM1D</text>
<text x="285.60" y="509.60" font-size="8.6" textLength="24.40" lengthAdjust="spacingAndGlyphs" font-style="italic" stroke="#231f20" stroke-width="0.32">SRSF2</text>
<text x="220.00" y="597.00" font-size="8.6" textLength="36.30" lengthAdjust="spacingAndGlyphs" font-style="italic" stroke="#231f20" stroke-width="0.32">DNMT3A</text>
<text x="220.00" y="642.50" font-size="8.6" textLength="26.80" lengthAdjust="spacingAndGlyphs" font-style="italic" stroke="#231f20" stroke-width="0.32">STAG2</text>
<path d="M58.5 491.5V680.6M57.9 680H342M55 491.5H58.5M55 529.2H58.5M55 566.9H58.5M55 604.6H58.5M55 642.3H58.5M55 680H58.5" stroke="#231f20" stroke-width="1.3" fill="none"/>
<text x="52.00" y="494.70" font-size="8.8" text-anchor="end" stroke="#231f20" stroke-width="0.32">10</text>
<text x="52.00" y="532.40" font-size="8.8" text-anchor="end" stroke="#231f20" stroke-width="0.32">8</text>
<text x="52.00" y="570.10" font-size="8.8" text-anchor="end" stroke="#231f20" stroke-width="0.32">6</text>
<text x="52.00" y="607.80" font-size="8.8" text-anchor="end" stroke="#231f20" stroke-width="0.32">4</text>
<text x="52.00" y="645.50" font-size="8.8" text-anchor="end" stroke="#231f20" stroke-width="0.32">2</text>
<text x="52.00" y="683.20" font-size="8.8" text-anchor="end" stroke="#231f20" stroke-width="0.32">0</text>
<line x1="58.50" y1="680.00" x2="58.50" y2="683.50" stroke="#231f20" stroke-width="1.2"/>
<text x="58.50" y="693.50" font-size="8.8" text-anchor="middle" stroke="#231f20" stroke-width="0.32">-4</text>
<line x1="128.70" y1="680.00" x2="128.70" y2="683.50" stroke="#231f20" stroke-width="1.2"/>
<text x="128.70" y="693.50" font-size="8.8" text-anchor="middle" stroke="#231f20" stroke-width="0.32">-2</text>
<line x1="198.80" y1="680.00" x2="198.80" y2="683.50" stroke="#231f20" stroke-width="1.2"/>
<text x="198.80" y="693.50" font-size="8.8" text-anchor="middle" stroke="#231f20" stroke-width="0.32">0</text>
<line x1="268.90" y1="680.00" x2="268.90" y2="683.50" stroke="#231f20" stroke-width="1.2"/>
<text x="268.90" y="693.50" font-size="8.8" text-anchor="middle" stroke="#231f20" stroke-width="0.32">2</text>
<line x1="339.00" y1="680.00" x2="339.00" y2="683.50" stroke="#231f20" stroke-width="1.2"/>
<text x="339.00" y="693.50" font-size="8.8" text-anchor="middle" stroke="#231f20" stroke-width="0.32">4</text>
<text x="33.60" y="611.30" font-size="10.4" textLength="54.60" lengthAdjust="spacingAndGlyphs" stroke="#231f20" stroke-width="0.32" transform="rotate(-90 33.60 611.30)">-Log<tspan font-size="7" dy="2">10</tspan><tspan dy="-2"> P value</tspan></text>
<text x="168.00" y="709.60" font-size="10.5" textLength="65.10" lengthAdjust="spacingAndGlyphs" stroke="#231f20" stroke-width="0.32">Odds ratio (Log<tspan font-size="7" dy="2">2</tspan><tspan dy="-2">)</tspan></text>
<path d="M143.9 704.5H70" stroke="#231f20" stroke-width="1.1"/><path d="M66.9 704.5l6.2 -2.3v4.6z" fill="#231f20"/>
<path d="M253.2 704.5H327" stroke="#231f20" stroke-width="1.1"/><path d="M330.2 704.5l-6.2 -2.3v4.6z" fill="#231f20"/>
<text x="71.20" y="715.80" font-size="8.8" textLength="68.70" lengthAdjust="spacingAndGlyphs" font-style="italic" fill="#b0284f" stroke="#b0284f" stroke-width="0.1">Shortest quartile</text>
<text x="258.00" y="715.80" font-size="8.8" textLength="67.10" lengthAdjust="spacingAndGlyphs" font-style="italic" fill="#475d94" stroke="#475d94" stroke-width="0.1">Longest quartile</text>
<path fill="#000" d="M0 0H520V1.3H0ZM0 0H1.3V726H0ZM518.5 0H520V726H518.5ZM0 724.5H520V726H0Z"/>
</svg></div></body></html>
